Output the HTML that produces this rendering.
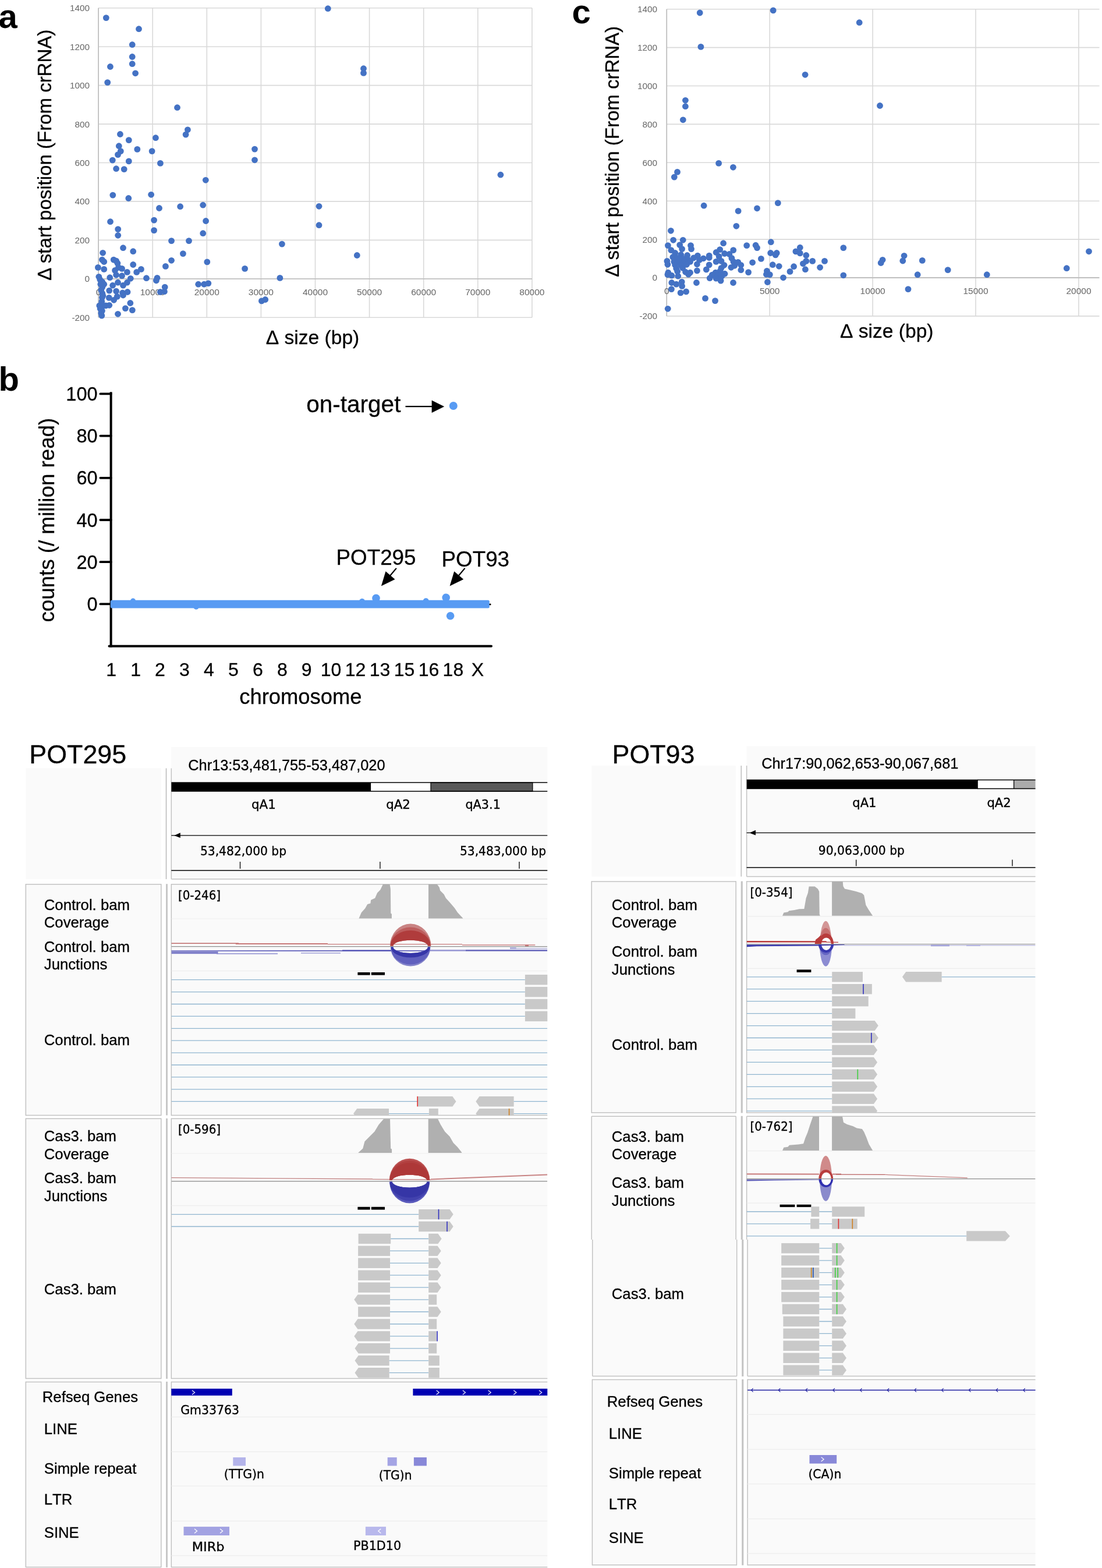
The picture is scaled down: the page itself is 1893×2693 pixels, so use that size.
<!DOCTYPE html>
<html lang="en"><head><meta charset="utf-8"><title>Figure</title>
<style>
html,body{margin:0;padding:0;background:#fff;}
body{width:1893px;height:2693px;overflow:hidden;}
svg{display:block;}
text{white-space:pre;}
</style></head><body>
<svg width="1893" height="2693" viewBox="0 0 1893 2693">
<rect width="1893" height="2693" fill="#ffffff"/>
<g id="plot-a">
<line x1="169.1" y1="13.7" x2="914.0" y2="13.7" stroke="#d9d9d9" stroke-width="1.6" />
<line x1="169.1" y1="80.2" x2="914.0" y2="80.2" stroke="#d9d9d9" stroke-width="1.6" />
<line x1="169.1" y1="146.6" x2="914.0" y2="146.6" stroke="#d9d9d9" stroke-width="1.6" />
<line x1="169.1" y1="213.1" x2="914.0" y2="213.1" stroke="#d9d9d9" stroke-width="1.6" />
<line x1="169.1" y1="279.5" x2="914.0" y2="279.5" stroke="#d9d9d9" stroke-width="1.6" />
<line x1="169.1" y1="345.9" x2="914.0" y2="345.9" stroke="#d9d9d9" stroke-width="1.6" />
<line x1="169.1" y1="412.4" x2="914.0" y2="412.4" stroke="#d9d9d9" stroke-width="1.6" />
<line x1="169.1" y1="545.3" x2="914.0" y2="545.3" stroke="#d9d9d9" stroke-width="1.6" />
<line x1="262.2" y1="13.7" x2="262.2" y2="545.3" stroke="#d9d9d9" stroke-width="1.6" />
<line x1="355.3" y1="13.7" x2="355.3" y2="545.3" stroke="#d9d9d9" stroke-width="1.6" />
<line x1="448.4" y1="13.7" x2="448.4" y2="545.3" stroke="#d9d9d9" stroke-width="1.6" />
<line x1="541.5" y1="13.7" x2="541.5" y2="545.3" stroke="#d9d9d9" stroke-width="1.6" />
<line x1="634.6" y1="13.7" x2="634.6" y2="545.3" stroke="#d9d9d9" stroke-width="1.6" />
<line x1="727.7" y1="13.7" x2="727.7" y2="545.3" stroke="#d9d9d9" stroke-width="1.6" />
<line x1="820.8" y1="13.7" x2="820.8" y2="545.3" stroke="#d9d9d9" stroke-width="1.6" />
<line x1="913.9" y1="13.7" x2="913.9" y2="545.3" stroke="#d9d9d9" stroke-width="1.6" />
<line x1="169.1" y1="13.7" x2="169.1" y2="545.3" stroke="#bfbfbf" stroke-width="1.8" />
<line x1="169.1" y1="478.9" x2="914.0" y2="478.9" stroke="#bfbfbf" stroke-width="1.8" />
<text x="154.0" y="19.1" font-size="15.3" text-anchor="end" fill="#666666" font-family="'Liberation Sans', Arial, Helvetica, sans-serif" font-weight="normal"  style="font-kerning:none">1400</text>
<text x="154.0" y="85.6" font-size="15.3" text-anchor="end" fill="#666666" font-family="'Liberation Sans', Arial, Helvetica, sans-serif" font-weight="normal"  style="font-kerning:none">1200</text>
<text x="154.0" y="152.0" font-size="15.3" text-anchor="end" fill="#666666" font-family="'Liberation Sans', Arial, Helvetica, sans-serif" font-weight="normal"  style="font-kerning:none">1000</text>
<text x="154.0" y="218.5" font-size="15.3" text-anchor="end" fill="#666666" font-family="'Liberation Sans', Arial, Helvetica, sans-serif" font-weight="normal"  style="font-kerning:none">800</text>
<text x="154.0" y="284.9" font-size="15.3" text-anchor="end" fill="#666666" font-family="'Liberation Sans', Arial, Helvetica, sans-serif" font-weight="normal"  style="font-kerning:none">600</text>
<text x="154.0" y="351.3" font-size="15.3" text-anchor="end" fill="#666666" font-family="'Liberation Sans', Arial, Helvetica, sans-serif" font-weight="normal"  style="font-kerning:none">400</text>
<text x="154.0" y="417.8" font-size="15.3" text-anchor="end" fill="#666666" font-family="'Liberation Sans', Arial, Helvetica, sans-serif" font-weight="normal"  style="font-kerning:none">200</text>
<text x="154.0" y="484.2" font-size="15.3" text-anchor="end" fill="#666666" font-family="'Liberation Sans', Arial, Helvetica, sans-serif" font-weight="normal"  style="font-kerning:none">0</text>
<text x="154.0" y="550.7" font-size="15.3" text-anchor="end" fill="#666666" font-family="'Liberation Sans', Arial, Helvetica, sans-serif" font-weight="normal"  style="font-kerning:none">-200</text>
<text x="169.1" y="506.5" font-size="15.5" text-anchor="middle" fill="#666666" font-family="'Liberation Sans', Arial, Helvetica, sans-serif" font-weight="normal"  style="font-kerning:none">0</text>
<text x="262.2" y="506.5" font-size="15.5" text-anchor="middle" fill="#666666" font-family="'Liberation Sans', Arial, Helvetica, sans-serif" font-weight="normal"  style="font-kerning:none">10000</text>
<text x="355.3" y="506.5" font-size="15.5" text-anchor="middle" fill="#666666" font-family="'Liberation Sans', Arial, Helvetica, sans-serif" font-weight="normal"  style="font-kerning:none">20000</text>
<text x="448.4" y="506.5" font-size="15.5" text-anchor="middle" fill="#666666" font-family="'Liberation Sans', Arial, Helvetica, sans-serif" font-weight="normal"  style="font-kerning:none">30000</text>
<text x="541.5" y="506.5" font-size="15.5" text-anchor="middle" fill="#666666" font-family="'Liberation Sans', Arial, Helvetica, sans-serif" font-weight="normal"  style="font-kerning:none">40000</text>
<text x="634.6" y="506.5" font-size="15.5" text-anchor="middle" fill="#666666" font-family="'Liberation Sans', Arial, Helvetica, sans-serif" font-weight="normal"  style="font-kerning:none">50000</text>
<text x="727.7" y="506.5" font-size="15.5" text-anchor="middle" fill="#666666" font-family="'Liberation Sans', Arial, Helvetica, sans-serif" font-weight="normal"  style="font-kerning:none">60000</text>
<text x="820.8" y="506.5" font-size="15.5" text-anchor="middle" fill="#666666" font-family="'Liberation Sans', Arial, Helvetica, sans-serif" font-weight="normal"  style="font-kerning:none">70000</text>
<text x="913.9" y="506.5" font-size="15.5" text-anchor="middle" fill="#666666" font-family="'Liberation Sans', Arial, Helvetica, sans-serif" font-weight="normal"  style="font-kerning:none">80000</text>
<circle cx="182.3" cy="30.6" r="5.4" fill="#4472c4"/>
<circle cx="238.5" cy="49.7" r="5.4" fill="#4472c4"/>
<circle cx="227.2" cy="76.7" r="5.4" fill="#4472c4"/>
<circle cx="227.2" cy="97.5" r="5.4" fill="#4472c4"/>
<circle cx="227.2" cy="109.7" r="5.4" fill="#4472c4"/>
<circle cx="232.6" cy="125.8" r="5.4" fill="#4472c4"/>
<circle cx="189.4" cy="114.5" r="5.4" fill="#4472c4"/>
<circle cx="184.7" cy="141.6" r="5.4" fill="#4472c4"/>
<circle cx="304.5" cy="184.7" r="5.4" fill="#4472c4"/>
<circle cx="322.4" cy="222.8" r="5.4" fill="#4472c4"/>
<circle cx="319.1" cy="231.1" r="5.4" fill="#4472c4"/>
<circle cx="206.4" cy="230.5" r="5.4" fill="#4472c4"/>
<circle cx="221.3" cy="240.6" r="5.4" fill="#4472c4"/>
<circle cx="267.4" cy="236.7" r="5.4" fill="#4472c4"/>
<circle cx="204.3" cy="250.7" r="5.4" fill="#4472c4"/>
<circle cx="207.3" cy="259.6" r="5.4" fill="#4472c4"/>
<circle cx="235.8" cy="256.4" r="5.4" fill="#4472c4"/>
<circle cx="261.1" cy="259.6" r="5.4" fill="#4472c4"/>
<circle cx="202.5" cy="265.6" r="5.4" fill="#4472c4"/>
<circle cx="193.3" cy="275.1" r="5.4" fill="#4472c4"/>
<circle cx="221.3" cy="276.9" r="5.4" fill="#4472c4"/>
<circle cx="275.4" cy="280.4" r="5.4" fill="#4472c4"/>
<circle cx="199.6" cy="289.7" r="5.4" fill="#4472c4"/>
<circle cx="213.2" cy="290.6" r="5.4" fill="#4472c4"/>
<circle cx="437.5" cy="256.1" r="5.4" fill="#4472c4"/>
<circle cx="437.5" cy="274.8" r="5.4" fill="#4472c4"/>
<circle cx="353.3" cy="309.3" r="5.4" fill="#4472c4"/>
<circle cx="193.8" cy="335.1" r="5.4" fill="#4472c4"/>
<circle cx="220.8" cy="340.5" r="5.4" fill="#4472c4"/>
<circle cx="259.6" cy="334.3" r="5.4" fill="#4472c4"/>
<circle cx="273.5" cy="357.5" r="5.4" fill="#4472c4"/>
<circle cx="309.6" cy="354.7" r="5.4" fill="#4472c4"/>
<circle cx="348.7" cy="352.2" r="5.4" fill="#4472c4"/>
<circle cx="189.5" cy="380.7" r="5.4" fill="#4472c4"/>
<circle cx="264.6" cy="378.1" r="5.4" fill="#4472c4"/>
<circle cx="353.6" cy="379.5" r="5.4" fill="#4472c4"/>
<circle cx="202.7" cy="393.6" r="5.4" fill="#4472c4"/>
<circle cx="264.6" cy="395.6" r="5.4" fill="#4472c4"/>
<circle cx="348.7" cy="400.7" r="5.4" fill="#4472c4"/>
<circle cx="202.7" cy="404.3" r="5.4" fill="#4472c4"/>
<circle cx="294.5" cy="413.6" r="5.4" fill="#4472c4"/>
<circle cx="324.5" cy="413.6" r="5.4" fill="#4472c4"/>
<circle cx="211.5" cy="425.7" r="5.4" fill="#4472c4"/>
<circle cx="228.7" cy="431.7" r="5.4" fill="#4472c4"/>
<circle cx="176.6" cy="434.3" r="5.4" fill="#4472c4"/>
<circle cx="314.4" cy="435.6" r="5.4" fill="#4472c4"/>
<circle cx="294.5" cy="447.3" r="5.4" fill="#4472c4"/>
<circle cx="355.8" cy="449.9" r="5.4" fill="#4472c4"/>
<circle cx="175.4" cy="446.1" r="5.4" fill="#4472c4"/>
<circle cx="178.7" cy="449.5" r="5.4" fill="#4472c4"/>
<circle cx="195.2" cy="446.1" r="5.4" fill="#4472c4"/>
<circle cx="199.6" cy="448.1" r="5.4" fill="#4472c4"/>
<circle cx="201.9" cy="452.1" r="5.4" fill="#4472c4"/>
<circle cx="228.7" cy="454.5" r="5.4" fill="#4472c4"/>
<circle cx="284.4" cy="457.4" r="5.4" fill="#4472c4"/>
<circle cx="168.4" cy="459.4" r="5.4" fill="#4472c4"/>
<circle cx="178.7" cy="462.4" r="5.4" fill="#4472c4"/>
<circle cx="203.5" cy="459.4" r="5.4" fill="#4472c4"/>
<circle cx="209.5" cy="461.4" r="5.4" fill="#4472c4"/>
<circle cx="197.6" cy="464.4" r="5.4" fill="#4472c4"/>
<circle cx="218.4" cy="467.4" r="5.4" fill="#4472c4"/>
<circle cx="234.7" cy="467.4" r="5.4" fill="#4472c4"/>
<circle cx="242.4" cy="462.4" r="5.4" fill="#4472c4"/>
<circle cx="420.6" cy="461.4" r="5.4" fill="#4472c4"/>
<circle cx="199.6" cy="472.3" r="5.4" fill="#4472c4"/>
<circle cx="209.5" cy="473.7" r="5.4" fill="#4472c4"/>
<circle cx="188.7" cy="476.7" r="5.4" fill="#4472c4"/>
<circle cx="169.8" cy="475.3" r="5.4" fill="#4472c4"/>
<circle cx="224.3" cy="478.3" r="5.4" fill="#4472c4"/>
<circle cx="251.5" cy="477.7" r="5.4" fill="#4472c4"/>
<circle cx="270.0" cy="477.3" r="5.4" fill="#4472c4"/>
<circle cx="268.4" cy="481.8" r="5.4" fill="#4472c4"/>
<circle cx="171.8" cy="480.2" r="5.4" fill="#4472c4"/>
<circle cx="175.8" cy="484.2" r="5.4" fill="#4472c4"/>
<circle cx="178.7" cy="488.2" r="5.4" fill="#4472c4"/>
<circle cx="202.5" cy="485.2" r="5.4" fill="#4472c4"/>
<circle cx="218.4" cy="485.2" r="5.4" fill="#4472c4"/>
<circle cx="193.6" cy="490.2" r="5.4" fill="#4472c4"/>
<circle cx="211.5" cy="490.2" r="5.4" fill="#4472c4"/>
<circle cx="340.7" cy="488.2" r="5.4" fill="#4472c4"/>
<circle cx="350.6" cy="488.2" r="5.4" fill="#4472c4"/>
<circle cx="357.8" cy="486.6" r="5.4" fill="#4472c4"/>
<circle cx="283.2" cy="493.1" r="5.4" fill="#4472c4"/>
<circle cx="175.8" cy="493.1" r="5.4" fill="#4472c4"/>
<circle cx="187.7" cy="499.1" r="5.4" fill="#4472c4"/>
<circle cx="199.6" cy="500.1" r="5.4" fill="#4472c4"/>
<circle cx="210.5" cy="503.0" r="5.4" fill="#4472c4"/>
<circle cx="219.0" cy="501.5" r="5.4" fill="#4472c4"/>
<circle cx="275.3" cy="501.5" r="5.4" fill="#4472c4"/>
<circle cx="282.4" cy="500.7" r="5.4" fill="#4472c4"/>
<circle cx="175.8" cy="504.0" r="5.4" fill="#4472c4"/>
<circle cx="175.4" cy="511.0" r="5.4" fill="#4472c4"/>
<circle cx="187.3" cy="511.4" r="5.4" fill="#4472c4"/>
<circle cx="201.2" cy="509.4" r="5.4" fill="#4472c4"/>
<circle cx="211.5" cy="507.0" r="5.4" fill="#4472c4"/>
<circle cx="195.6" cy="515.3" r="5.4" fill="#4472c4"/>
<circle cx="223.8" cy="520.5" r="5.4" fill="#4472c4"/>
<circle cx="449.4" cy="516.9" r="5.4" fill="#4472c4"/>
<circle cx="455.7" cy="514.5" r="5.4" fill="#4472c4"/>
<circle cx="170.8" cy="524.9" r="5.4" fill="#4472c4"/>
<circle cx="175.8" cy="525.8" r="5.4" fill="#4472c4"/>
<circle cx="181.7" cy="524.9" r="5.4" fill="#4472c4"/>
<circle cx="187.7" cy="524.3" r="5.4" fill="#4472c4"/>
<circle cx="215.4" cy="529.6" r="5.4" fill="#4472c4"/>
<circle cx="227.3" cy="532.6" r="5.4" fill="#4472c4"/>
<circle cx="175.4" cy="533.8" r="5.4" fill="#4472c4"/>
<circle cx="202.5" cy="539.3" r="5.4" fill="#4472c4"/>
<circle cx="174.8" cy="542.1" r="5.4" fill="#4472c4"/>
<circle cx="173.8" cy="498.1" r="5.4" fill="#4472c4"/>
<circle cx="174.8" cy="517.9" r="5.4" fill="#4472c4"/>
<circle cx="176.8" cy="508.0" r="5.4" fill="#4472c4"/>
<circle cx="173.8" cy="537.7" r="5.4" fill="#4472c4"/>
<circle cx="172.8" cy="488.2" r="5.4" fill="#4472c4"/>
<circle cx="172.2" cy="530.2" r="5.4" fill="#4472c4"/>
<circle cx="563.3" cy="14.7" r="5.4" fill="#4472c4"/>
<circle cx="624.5" cy="117.7" r="5.4" fill="#4472c4"/>
<circle cx="624.5" cy="125.4" r="5.4" fill="#4472c4"/>
<circle cx="859.9" cy="300.2" r="5.4" fill="#4472c4"/>
<circle cx="548.0" cy="354.3" r="5.4" fill="#4472c4"/>
<circle cx="548.0" cy="386.7" r="5.4" fill="#4472c4"/>
<circle cx="484.4" cy="419.1" r="5.4" fill="#4472c4"/>
<circle cx="613.3" cy="438.5" r="5.4" fill="#4472c4"/>
<circle cx="480.9" cy="477.4" r="5.4" fill="#4472c4"/>
<text x="537.0" y="591.2" font-size="33.6" text-anchor="middle" fill="#000" font-family="'Liberation Sans', Arial, Helvetica, sans-serif" font-weight="normal"  style="font-kerning:none" stroke="#000" stroke-width="0.3">Δ size (bp)</text>
<text transform="translate(88.3,266.2) rotate(-90)" font-size="33" text-anchor="middle" font-family="'Liberation Sans', Arial, Helvetica, sans-serif" stroke="#000" stroke-width="0.3">Δ start position (From crRNA)</text>
</g>
<g id="plot-c">
<line x1="1145.2" y1="15.7" x2="1888.5" y2="15.7" stroke="#d9d9d9" stroke-width="1.6" />
<line x1="1145.2" y1="81.6" x2="1888.5" y2="81.6" stroke="#d9d9d9" stroke-width="1.6" />
<line x1="1145.2" y1="147.5" x2="1888.5" y2="147.5" stroke="#d9d9d9" stroke-width="1.6" />
<line x1="1145.2" y1="213.4" x2="1888.5" y2="213.4" stroke="#d9d9d9" stroke-width="1.6" />
<line x1="1145.2" y1="279.3" x2="1888.5" y2="279.3" stroke="#d9d9d9" stroke-width="1.6" />
<line x1="1145.2" y1="345.2" x2="1888.5" y2="345.2" stroke="#d9d9d9" stroke-width="1.6" />
<line x1="1145.2" y1="411.1" x2="1888.5" y2="411.1" stroke="#d9d9d9" stroke-width="1.6" />
<line x1="1145.2" y1="542.9" x2="1888.5" y2="542.9" stroke="#d9d9d9" stroke-width="1.6" />
<line x1="1322.2" y1="15.7" x2="1322.2" y2="542.9" stroke="#d9d9d9" stroke-width="1.6" />
<line x1="1499.1" y1="15.7" x2="1499.1" y2="542.9" stroke="#d9d9d9" stroke-width="1.6" />
<line x1="1676.0" y1="15.7" x2="1676.0" y2="542.9" stroke="#d9d9d9" stroke-width="1.6" />
<line x1="1853.0" y1="15.7" x2="1853.0" y2="542.9" stroke="#d9d9d9" stroke-width="1.6" />
<line x1="1145.2" y1="15.7" x2="1145.2" y2="542.9" stroke="#bfbfbf" stroke-width="1.8" />
<line x1="1145.2" y1="477.0" x2="1888.5" y2="477.0" stroke="#bfbfbf" stroke-width="1.8" />
<text x="1129.0" y="21.1" font-size="15.3" text-anchor="end" fill="#666666" font-family="'Liberation Sans', Arial, Helvetica, sans-serif" font-weight="normal"  style="font-kerning:none">1400</text>
<text x="1129.0" y="87.0" font-size="15.3" text-anchor="end" fill="#666666" font-family="'Liberation Sans', Arial, Helvetica, sans-serif" font-weight="normal"  style="font-kerning:none">1200</text>
<text x="1129.0" y="152.9" font-size="15.3" text-anchor="end" fill="#666666" font-family="'Liberation Sans', Arial, Helvetica, sans-serif" font-weight="normal"  style="font-kerning:none">1000</text>
<text x="1129.0" y="218.8" font-size="15.3" text-anchor="end" fill="#666666" font-family="'Liberation Sans', Arial, Helvetica, sans-serif" font-weight="normal"  style="font-kerning:none">800</text>
<text x="1129.0" y="284.7" font-size="15.3" text-anchor="end" fill="#666666" font-family="'Liberation Sans', Arial, Helvetica, sans-serif" font-weight="normal"  style="font-kerning:none">600</text>
<text x="1129.0" y="350.6" font-size="15.3" text-anchor="end" fill="#666666" font-family="'Liberation Sans', Arial, Helvetica, sans-serif" font-weight="normal"  style="font-kerning:none">400</text>
<text x="1129.0" y="416.5" font-size="15.3" text-anchor="end" fill="#666666" font-family="'Liberation Sans', Arial, Helvetica, sans-serif" font-weight="normal"  style="font-kerning:none">200</text>
<text x="1129.0" y="482.4" font-size="15.3" text-anchor="end" fill="#666666" font-family="'Liberation Sans', Arial, Helvetica, sans-serif" font-weight="normal"  style="font-kerning:none">0</text>
<text x="1129.0" y="548.3" font-size="15.3" text-anchor="end" fill="#666666" font-family="'Liberation Sans', Arial, Helvetica, sans-serif" font-weight="normal"  style="font-kerning:none">-200</text>
<text x="1145.2" y="504.6" font-size="15.5" text-anchor="middle" fill="#666666" font-family="'Liberation Sans', Arial, Helvetica, sans-serif" font-weight="normal"  style="font-kerning:none">0</text>
<text x="1322.2" y="504.6" font-size="15.5" text-anchor="middle" fill="#666666" font-family="'Liberation Sans', Arial, Helvetica, sans-serif" font-weight="normal"  style="font-kerning:none">5000</text>
<text x="1499.1" y="504.6" font-size="15.5" text-anchor="middle" fill="#666666" font-family="'Liberation Sans', Arial, Helvetica, sans-serif" font-weight="normal"  style="font-kerning:none">10000</text>
<text x="1676.0" y="504.6" font-size="15.5" text-anchor="middle" fill="#666666" font-family="'Liberation Sans', Arial, Helvetica, sans-serif" font-weight="normal"  style="font-kerning:none">15000</text>
<text x="1853.0" y="504.6" font-size="15.5" text-anchor="middle" fill="#666666" font-family="'Liberation Sans', Arial, Helvetica, sans-serif" font-weight="normal"  style="font-kerning:none">20000</text>
<circle cx="1264.8" cy="388.3" r="5.4" fill="#4472c4"/>
<circle cx="1152.4" cy="396.3" r="5.4" fill="#4472c4"/>
<circle cx="1156.6" cy="412.3" r="5.4" fill="#4472c4"/>
<circle cx="1173.2" cy="412.3" r="5.4" fill="#4472c4"/>
<circle cx="1147.4" cy="421.6" r="5.4" fill="#4472c4"/>
<circle cx="1167.7" cy="420.6" r="5.4" fill="#4472c4"/>
<circle cx="1186.5" cy="421.6" r="5.4" fill="#4472c4"/>
<circle cx="1242.6" cy="417.7" r="5.4" fill="#4472c4"/>
<circle cx="1282.7" cy="421.6" r="5.4" fill="#4472c4"/>
<circle cx="1298.1" cy="421.2" r="5.4" fill="#4472c4"/>
<circle cx="1300.5" cy="425.6" r="5.4" fill="#4472c4"/>
<circle cx="1324.3" cy="415.7" r="5.4" fill="#4472c4"/>
<circle cx="1374.3" cy="425.2" r="5.4" fill="#4472c4"/>
<circle cx="1171.6" cy="427.6" r="5.4" fill="#4472c4"/>
<circle cx="1187.5" cy="427.6" r="5.4" fill="#4472c4"/>
<circle cx="1152.8" cy="429.6" r="5.4" fill="#4472c4"/>
<circle cx="1236.7" cy="428.6" r="5.4" fill="#4472c4"/>
<circle cx="1259.7" cy="429.6" r="5.4" fill="#4472c4"/>
<circle cx="1366.9" cy="431.9" r="5.4" fill="#4472c4"/>
<circle cx="1374.3" cy="434.9" r="5.4" fill="#4472c4"/>
<circle cx="1448.8" cy="425.6" r="5.4" fill="#4472c4"/>
<circle cx="1230.1" cy="433.5" r="5.4" fill="#4472c4"/>
<circle cx="1244.6" cy="435.5" r="5.4" fill="#4472c4"/>
<circle cx="1323.7" cy="434.5" r="5.4" fill="#4472c4"/>
<circle cx="1334.2" cy="434.5" r="5.4" fill="#4472c4"/>
<circle cx="1332.2" cy="437.9" r="5.4" fill="#4472c4"/>
<circle cx="1384.8" cy="438.5" r="5.4" fill="#4472c4"/>
<circle cx="1159.7" cy="434.5" r="5.4" fill="#4472c4"/>
<circle cx="1169.7" cy="437.5" r="5.4" fill="#4472c4"/>
<circle cx="1180.6" cy="438.5" r="5.4" fill="#4472c4"/>
<circle cx="1198.4" cy="439.1" r="5.4" fill="#4472c4"/>
<circle cx="1218.2" cy="439.1" r="5.4" fill="#4472c4"/>
<circle cx="1252.9" cy="436.5" r="5.4" fill="#4472c4"/>
<circle cx="1191.5" cy="443.0" r="5.4" fill="#4472c4"/>
<circle cx="1208.3" cy="443.8" r="5.4" fill="#4472c4"/>
<circle cx="1218.2" cy="442.5" r="5.4" fill="#4472c4"/>
<circle cx="1235.1" cy="440.5" r="5.4" fill="#4472c4"/>
<circle cx="1256.9" cy="443.4" r="5.4" fill="#4472c4"/>
<circle cx="1307.4" cy="444.4" r="5.4" fill="#4472c4"/>
<circle cx="1155.8" cy="441.5" r="5.4" fill="#4472c4"/>
<circle cx="1163.7" cy="443.4" r="5.4" fill="#4472c4"/>
<circle cx="1173.6" cy="444.4" r="5.4" fill="#4472c4"/>
<circle cx="1181.5" cy="445.4" r="5.4" fill="#4472c4"/>
<circle cx="1145.9" cy="448.4" r="5.4" fill="#4472c4"/>
<circle cx="1157.8" cy="449.4" r="5.4" fill="#4472c4"/>
<circle cx="1165.7" cy="449.4" r="5.4" fill="#4472c4"/>
<circle cx="1175.6" cy="449.4" r="5.4" fill="#4472c4"/>
<circle cx="1185.5" cy="449.4" r="5.4" fill="#4472c4"/>
<circle cx="1201.4" cy="446.4" r="5.4" fill="#4472c4"/>
<circle cx="1230.1" cy="449.4" r="5.4" fill="#4472c4"/>
<circle cx="1239.0" cy="448.4" r="5.4" fill="#4472c4"/>
<circle cx="1259.9" cy="449.4" r="5.4" fill="#4472c4"/>
<circle cx="1267.8" cy="450.4" r="5.4" fill="#4472c4"/>
<circle cx="1292.6" cy="450.8" r="5.4" fill="#4472c4"/>
<circle cx="1384.8" cy="448.4" r="5.4" fill="#4472c4"/>
<circle cx="1395.7" cy="448.4" r="5.4" fill="#4472c4"/>
<circle cx="1416.5" cy="448.4" r="5.4" fill="#4472c4"/>
<circle cx="1379.4" cy="452.8" r="5.4" fill="#4472c4"/>
<circle cx="1146.9" cy="454.3" r="5.4" fill="#4472c4"/>
<circle cx="1159.7" cy="455.3" r="5.4" fill="#4472c4"/>
<circle cx="1169.7" cy="455.3" r="5.4" fill="#4472c4"/>
<circle cx="1179.6" cy="454.3" r="5.4" fill="#4472c4"/>
<circle cx="1197.4" cy="453.8" r="5.4" fill="#4472c4"/>
<circle cx="1218.2" cy="454.9" r="5.4" fill="#4472c4"/>
<circle cx="1244.0" cy="455.3" r="5.4" fill="#4472c4"/>
<circle cx="1261.8" cy="456.3" r="5.4" fill="#4472c4"/>
<circle cx="1272.8" cy="455.3" r="5.4" fill="#4472c4"/>
<circle cx="1327.3" cy="454.7" r="5.4" fill="#4472c4"/>
<circle cx="1338.2" cy="457.3" r="5.4" fill="#4472c4"/>
<circle cx="1363.6" cy="457.7" r="5.4" fill="#4472c4"/>
<circle cx="1408.6" cy="459.3" r="5.4" fill="#4472c4"/>
<circle cx="1255.9" cy="459.3" r="5.4" fill="#4472c4"/>
<circle cx="1161.7" cy="461.3" r="5.4" fill="#4472c4"/>
<circle cx="1172.6" cy="460.3" r="5.4" fill="#4472c4"/>
<circle cx="1239.0" cy="460.3" r="5.4" fill="#4472c4"/>
<circle cx="1213.3" cy="462.9" r="5.4" fill="#4472c4"/>
<circle cx="1197.4" cy="464.9" r="5.4" fill="#4472c4"/>
<circle cx="1272.8" cy="463.7" r="5.4" fill="#4472c4"/>
<circle cx="1383.4" cy="462.7" r="5.4" fill="#4472c4"/>
<circle cx="1357.0" cy="466.4" r="5.4" fill="#4472c4"/>
<circle cx="1237.1" cy="465.3" r="5.4" fill="#4472c4"/>
<circle cx="1163.7" cy="466.2" r="5.4" fill="#4472c4"/>
<circle cx="1177.6" cy="467.2" r="5.4" fill="#4472c4"/>
<circle cx="1185.5" cy="468.2" r="5.4" fill="#4472c4"/>
<circle cx="1147.8" cy="468.2" r="5.4" fill="#4472c4"/>
<circle cx="1229.1" cy="468.2" r="5.4" fill="#4472c4"/>
<circle cx="1245.0" cy="470.2" r="5.4" fill="#4472c4"/>
<circle cx="1285.6" cy="467.6" r="5.4" fill="#4472c4"/>
<circle cx="1317.4" cy="465.3" r="5.4" fill="#4472c4"/>
<circle cx="1316.4" cy="471.2" r="5.4" fill="#4472c4"/>
<circle cx="1322.3" cy="471.6" r="5.4" fill="#4472c4"/>
<circle cx="1448.8" cy="472.8" r="5.4" fill="#4472c4"/>
<circle cx="1146.9" cy="471.6" r="5.4" fill="#4472c4"/>
<circle cx="1153.8" cy="473.2" r="5.4" fill="#4472c4"/>
<circle cx="1164.7" cy="474.2" r="5.4" fill="#4472c4"/>
<circle cx="1182.5" cy="471.2" r="5.4" fill="#4472c4"/>
<circle cx="1223.2" cy="472.2" r="5.4" fill="#4472c4"/>
<circle cx="1233.1" cy="473.2" r="5.4" fill="#4472c4"/>
<circle cx="1240.0" cy="474.2" r="5.4" fill="#4472c4"/>
<circle cx="1345.5" cy="476.8" r="5.4" fill="#4472c4"/>
<circle cx="1219.2" cy="477.7" r="5.4" fill="#4472c4"/>
<circle cx="1230.1" cy="478.1" r="5.4" fill="#4472c4"/>
<circle cx="1238.1" cy="482.1" r="5.4" fill="#4472c4"/>
<circle cx="1196.4" cy="485.5" r="5.4" fill="#4472c4"/>
<circle cx="1259.5" cy="485.5" r="5.4" fill="#4472c4"/>
<circle cx="1318.4" cy="484.5" r="5.4" fill="#4472c4"/>
<circle cx="1153.8" cy="485.5" r="5.4" fill="#4472c4"/>
<circle cx="1161.7" cy="488.1" r="5.4" fill="#4472c4"/>
<circle cx="1171.2" cy="484.1" r="5.4" fill="#4472c4"/>
<circle cx="1171.6" cy="491.4" r="5.4" fill="#4472c4"/>
<circle cx="1153.4" cy="496.6" r="5.4" fill="#4472c4"/>
<circle cx="1169.1" cy="502.9" r="5.4" fill="#4472c4"/>
<circle cx="1178.6" cy="500.9" r="5.4" fill="#4472c4"/>
<circle cx="1211.5" cy="512.4" r="5.4" fill="#4472c4"/>
<circle cx="1228.5" cy="516.6" r="5.4" fill="#4472c4"/>
<circle cx="1147.2" cy="530.3" r="5.4" fill="#4472c4"/>
<circle cx="1202.2" cy="22.0" r="5.4" fill="#4472c4"/>
<circle cx="1328.2" cy="17.9" r="5.4" fill="#4472c4"/>
<circle cx="1476.2" cy="38.7" r="5.4" fill="#4472c4"/>
<circle cx="1203.9" cy="80.4" r="5.4" fill="#4472c4"/>
<circle cx="1383.1" cy="128.3" r="5.4" fill="#4472c4"/>
<circle cx="1177.4" cy="172.3" r="5.4" fill="#4472c4"/>
<circle cx="1177.4" cy="182.7" r="5.4" fill="#4472c4"/>
<circle cx="1173.3" cy="205.8" r="5.4" fill="#4472c4"/>
<circle cx="1511.5" cy="181.5" r="5.4" fill="#4472c4"/>
<circle cx="1234.6" cy="280.4" r="5.4" fill="#4472c4"/>
<circle cx="1259.4" cy="287.3" r="5.4" fill="#4472c4"/>
<circle cx="1163.5" cy="295.4" r="5.4" fill="#4472c4"/>
<circle cx="1158.3" cy="304.1" r="5.4" fill="#4472c4"/>
<circle cx="1209.1" cy="353.2" r="5.4" fill="#4472c4"/>
<circle cx="1268.1" cy="362.4" r="5.4" fill="#4472c4"/>
<circle cx="1300.5" cy="357.8" r="5.4" fill="#4472c4"/>
<circle cx="1336.3" cy="348.6" r="5.4" fill="#4472c4"/>
<circle cx="1516.1" cy="446.3" r="5.4" fill="#4472c4"/>
<circle cx="1513.2" cy="451.5" r="5.4" fill="#4472c4"/>
<circle cx="1553.1" cy="439.3" r="5.4" fill="#4472c4"/>
<circle cx="1550.8" cy="448.0" r="5.4" fill="#4472c4"/>
<circle cx="1584.3" cy="447.4" r="5.4" fill="#4472c4"/>
<circle cx="1576.2" cy="471.7" r="5.4" fill="#4472c4"/>
<circle cx="1560.0" cy="496.6" r="5.4" fill="#4472c4"/>
<circle cx="1628.2" cy="463.6" r="5.4" fill="#4472c4"/>
<circle cx="1695.3" cy="471.7" r="5.4" fill="#4472c4"/>
<circle cx="1832.3" cy="460.7" r="5.4" fill="#4472c4"/>
<circle cx="1870.5" cy="431.8" r="5.4" fill="#4472c4"/>
<text x="1523.3" y="580.3" font-size="33.6" text-anchor="middle" fill="#000" font-family="'Liberation Sans', Arial, Helvetica, sans-serif" font-weight="normal"  style="font-kerning:none" stroke="#000" stroke-width="0.3">Δ size (bp)</text>
<text transform="translate(1063,260.4) rotate(-90)" font-size="33" text-anchor="middle" font-family="'Liberation Sans', Arial, Helvetica, sans-serif" stroke="#000" stroke-width="0.3">Δ start position (From crRNA)</text>
</g>
<text x="-2.5" y="47.8" font-size="58" text-anchor="start" fill="#000" font-family="'Liberation Sans', Arial, Helvetica, sans-serif" font-weight="bold"  style="font-kerning:none">a</text>
<text x="-2.5" y="671.2" font-size="58" text-anchor="start" fill="#000" font-family="'Liberation Sans', Arial, Helvetica, sans-serif" font-weight="bold"  style="font-kerning:none">b</text>
<text x="982.5" y="40.0" font-size="58" text-anchor="start" fill="#000" font-family="'Liberation Sans', Arial, Helvetica, sans-serif" font-weight="bold"  style="font-kerning:none">c</text>
<g id="plot-b">
<line x1="190.6" y1="673.2" x2="190.6" y2="1111.8" stroke="#000" stroke-width="4" />
<line x1="187.5" y1="1109.8" x2="844.0" y2="1109.8" stroke="#000" stroke-width="4" stroke-linecap="round"/>
<line x1="172.4" y1="676.4" x2="190.6" y2="676.4" stroke="#000" stroke-width="3.8" stroke-linecap="round"/>
<text x="167.6" y="687.9" font-size="32.5" text-anchor="end" fill="#000" font-family="'Liberation Sans', Arial, Helvetica, sans-serif" font-weight="normal"  style="font-kerning:none" stroke="#000" stroke-width="0.3">100</text>
<line x1="172.4" y1="748.6" x2="190.6" y2="748.6" stroke="#000" stroke-width="3.8" stroke-linecap="round"/>
<text x="167.6" y="760.1" font-size="32.5" text-anchor="end" fill="#000" font-family="'Liberation Sans', Arial, Helvetica, sans-serif" font-weight="normal"  style="font-kerning:none" stroke="#000" stroke-width="0.3">80</text>
<line x1="172.4" y1="820.8" x2="190.6" y2="820.8" stroke="#000" stroke-width="3.8" stroke-linecap="round"/>
<text x="167.6" y="832.3" font-size="32.5" text-anchor="end" fill="#000" font-family="'Liberation Sans', Arial, Helvetica, sans-serif" font-weight="normal"  style="font-kerning:none" stroke="#000" stroke-width="0.3">60</text>
<line x1="172.4" y1="893.0" x2="190.6" y2="893.0" stroke="#000" stroke-width="3.8" stroke-linecap="round"/>
<text x="167.6" y="904.5" font-size="32.5" text-anchor="end" fill="#000" font-family="'Liberation Sans', Arial, Helvetica, sans-serif" font-weight="normal"  style="font-kerning:none" stroke="#000" stroke-width="0.3">40</text>
<line x1="172.4" y1="965.2" x2="190.6" y2="965.2" stroke="#000" stroke-width="3.8" stroke-linecap="round"/>
<text x="167.6" y="976.7" font-size="32.5" text-anchor="end" fill="#000" font-family="'Liberation Sans', Arial, Helvetica, sans-serif" font-weight="normal"  style="font-kerning:none" stroke="#000" stroke-width="0.3">20</text>
<line x1="172.4" y1="1037.4" x2="190.6" y2="1037.4" stroke="#000" stroke-width="3.8" stroke-linecap="round"/>
<text x="167.6" y="1048.9" font-size="32.5" text-anchor="end" fill="#000" font-family="'Liberation Sans', Arial, Helvetica, sans-serif" font-weight="normal"  style="font-kerning:none" stroke="#000" stroke-width="0.3">0</text>
<rect x="189.8" y="1030.7" width="651.0" height="13.9" fill="#589bf3" rx="2.5"/>
<circle cx="778.8" cy="697" r="7" fill="#589bf3"/>
<circle cx="646" cy="1027.2" r="6.8" fill="#589bf3"/>
<circle cx="766.2" cy="1026.2" r="6.8" fill="#589bf3"/>
<circle cx="773.6" cy="1057.7" r="6.8" fill="#589bf3"/>
<circle cx="622" cy="1033" r="5" fill="#589bf3"/>
<circle cx="731.7" cy="1032.2" r="5" fill="#589bf3"/>
<circle cx="228.5" cy="1032.2" r="4.6" fill="#589bf3"/>
<circle cx="337" cy="1042.2" r="4.6" fill="#589bf3"/>
<circle cx="842" cy="1038" r="1.6" fill="#000"/>
<text x="191.1" y="1161.3" font-size="32" text-anchor="middle" fill="#000" font-family="'Liberation Sans', Arial, Helvetica, sans-serif" font-weight="normal"  style="font-kerning:none" stroke="#000" stroke-width="0.3">1</text>
<text x="233.1" y="1161.3" font-size="32" text-anchor="middle" fill="#000" font-family="'Liberation Sans', Arial, Helvetica, sans-serif" font-weight="normal"  style="font-kerning:none" stroke="#000" stroke-width="0.3">1</text>
<text x="275.0" y="1161.3" font-size="32" text-anchor="middle" fill="#000" font-family="'Liberation Sans', Arial, Helvetica, sans-serif" font-weight="normal"  style="font-kerning:none" stroke="#000" stroke-width="0.3">2</text>
<text x="316.9" y="1161.3" font-size="32" text-anchor="middle" fill="#000" font-family="'Liberation Sans', Arial, Helvetica, sans-serif" font-weight="normal"  style="font-kerning:none" stroke="#000" stroke-width="0.3">3</text>
<text x="358.9" y="1161.3" font-size="32" text-anchor="middle" fill="#000" font-family="'Liberation Sans', Arial, Helvetica, sans-serif" font-weight="normal"  style="font-kerning:none" stroke="#000" stroke-width="0.3">4</text>
<text x="400.9" y="1161.3" font-size="32" text-anchor="middle" fill="#000" font-family="'Liberation Sans', Arial, Helvetica, sans-serif" font-weight="normal"  style="font-kerning:none" stroke="#000" stroke-width="0.3">5</text>
<text x="442.8" y="1161.3" font-size="32" text-anchor="middle" fill="#000" font-family="'Liberation Sans', Arial, Helvetica, sans-serif" font-weight="normal"  style="font-kerning:none" stroke="#000" stroke-width="0.3">6</text>
<text x="484.8" y="1161.3" font-size="32" text-anchor="middle" fill="#000" font-family="'Liberation Sans', Arial, Helvetica, sans-serif" font-weight="normal"  style="font-kerning:none" stroke="#000" stroke-width="0.3">8</text>
<text x="526.7" y="1161.3" font-size="32" text-anchor="middle" fill="#000" font-family="'Liberation Sans', Arial, Helvetica, sans-serif" font-weight="normal"  style="font-kerning:none" stroke="#000" stroke-width="0.3">9</text>
<text x="568.6" y="1161.3" font-size="32" text-anchor="middle" fill="#000" font-family="'Liberation Sans', Arial, Helvetica, sans-serif" font-weight="normal"  style="font-kerning:none" stroke="#000" stroke-width="0.3">10</text>
<text x="610.6" y="1161.3" font-size="32" text-anchor="middle" fill="#000" font-family="'Liberation Sans', Arial, Helvetica, sans-serif" font-weight="normal"  style="font-kerning:none" stroke="#000" stroke-width="0.3">12</text>
<text x="652.6" y="1161.3" font-size="32" text-anchor="middle" fill="#000" font-family="'Liberation Sans', Arial, Helvetica, sans-serif" font-weight="normal"  style="font-kerning:none" stroke="#000" stroke-width="0.3">13</text>
<text x="694.5" y="1161.3" font-size="32" text-anchor="middle" fill="#000" font-family="'Liberation Sans', Arial, Helvetica, sans-serif" font-weight="normal"  style="font-kerning:none" stroke="#000" stroke-width="0.3">15</text>
<text x="736.5" y="1161.3" font-size="32" text-anchor="middle" fill="#000" font-family="'Liberation Sans', Arial, Helvetica, sans-serif" font-weight="normal"  style="font-kerning:none" stroke="#000" stroke-width="0.3">16</text>
<text x="778.4" y="1161.3" font-size="32" text-anchor="middle" fill="#000" font-family="'Liberation Sans', Arial, Helvetica, sans-serif" font-weight="normal"  style="font-kerning:none" stroke="#000" stroke-width="0.3">18</text>
<text x="820.4" y="1161.3" font-size="32" text-anchor="middle" fill="#000" font-family="'Liberation Sans', Arial, Helvetica, sans-serif" font-weight="normal"  style="font-kerning:none" stroke="#000" stroke-width="0.3">X</text>
<text x="516.4" y="1208.9" font-size="36.4" text-anchor="middle" fill="#000" font-family="'Liberation Sans', Arial, Helvetica, sans-serif" font-weight="normal"  style="font-kerning:none" stroke="#000" stroke-width="0.3">chromosome</text>
<text transform="translate(92.6,893.2) rotate(-90)" font-size="36.7" text-anchor="middle" font-family="'Liberation Sans', Arial, Helvetica, sans-serif" stroke="#000" stroke-width="0.3">counts (/ million read)</text>
<text x="526.3" y="708.2" font-size="40.5" text-anchor="start" fill="#000" font-family="'Liberation Sans', Arial, Helvetica, sans-serif" font-weight="normal"  style="font-kerning:none" stroke="#000" stroke-width="0.3">on-target</text>
<line x1="696.5" y1="698.2" x2="745.0" y2="698.2" stroke="#000" stroke-width="2.2" />
<polygon points="741.6,687.5 763.2,698.2 741.6,708.9" fill="#000" />
<text x="577.5" y="970.2" font-size="36.8" text-anchor="start" fill="#000" font-family="'Liberation Sans', Arial, Helvetica, sans-serif" font-weight="normal"  style="font-kerning:none" stroke="#000" stroke-width="0.3">POT295</text>
<text x="758.5" y="973.0" font-size="36.8" text-anchor="start" fill="#000" font-family="'Liberation Sans', Arial, Helvetica, sans-serif" font-weight="normal"  style="font-kerning:none" stroke="#000" stroke-width="0.3">POT93</text>
<line x1="680.9" y1="975.9" x2="669.2" y2="989.7" stroke="#000" stroke-width="2.2" />
<polygon points="654.9,1006.4 662.5,981.3 678.5,994.9" fill="#000" />
<line x1="798.6" y1="975.9" x2="786.9" y2="989.7" stroke="#000" stroke-width="2.2" />
<polygon points="772.6,1006.4 780.2,981.3 796.2,994.9" fill="#000" />
</g>
<g id="igv-left">
<rect x="44.3" y="1319.5" width="232.5" height="190.3" fill="#fafafa" />
<rect x="294.3" y="1283.0" width="646.0" height="226.8" fill="#fafafa" />
<line x1="294.3" y1="1319.5" x2="294.3" y2="1509.8" stroke="#c2c2c2" stroke-width="1.5" />
<line x1="294.3" y1="1509.8" x2="940.3" y2="1509.8" stroke="#c2c2c2" stroke-width="1.5" />
<text x="323.3" y="1322.5" font-size="25.35" text-anchor="start" fill="#000" font-family="'Liberation Sans', Arial, Helvetica, sans-serif" font-weight="normal"  style="font-kerning:none" stroke="#000" stroke-width="0.3">Chr13:53,481,755-53,487,020</text>
<rect x="294.3" y="1344.0" width="646.0" height="15.0" fill="#fff" />
<rect x="294.3" y="1343.3" width="342.8" height="16.4" fill="#000" />
<rect x="740.0" y="1344.0" width="174.9" height="15.0" fill="#5a5a5a" stroke="#000" stroke-width="1.2"/>
<line x1="637.0" y1="1344.0" x2="940.3" y2="1344.0" stroke="#000" stroke-width="1.4" />
<line x1="637.0" y1="1359.0" x2="940.3" y2="1359.0" stroke="#000" stroke-width="1.4" />
<text x="431.9" y="1389.2" font-size="21.5" fill="#000" font-family="'DejaVu Sans', 'Liberation Sans', sans-serif" textLength="41.9" lengthAdjust="spacingAndGlyphs" stroke="#000" stroke-width="0.35">qA1</text>
<text x="663.2" y="1389.2" font-size="21.5" fill="#000" font-family="'DejaVu Sans', 'Liberation Sans', sans-serif" textLength="41.7" lengthAdjust="spacingAndGlyphs" stroke="#000" stroke-width="0.35">qA2</text>
<text x="799.4" y="1389.2" font-size="21.5" fill="#000" font-family="'DejaVu Sans', 'Liberation Sans', sans-serif" textLength="60.5" lengthAdjust="spacingAndGlyphs" stroke="#000" stroke-width="0.35">qA3.1</text>
<line x1="294.3" y1="1434.9" x2="940.3" y2="1434.9" stroke="#000" stroke-width="1.3" />
<polygon points="299.2,1435.0 309.8,1430.2 309.8,1438.9" fill="#000" />
<text x="343.9" y="1468.8" font-size="21.5" fill="#000" font-family="'DejaVu Sans', 'Liberation Sans', sans-serif" textLength="148.2" lengthAdjust="spacingAndGlyphs" stroke="#000" stroke-width="0.35">53,482,000 bp</text>
<text x="789.9" y="1468.8" font-size="21.5" fill="#000" font-family="'DejaVu Sans', 'Liberation Sans', sans-serif" textLength="148.1" lengthAdjust="spacingAndGlyphs" stroke="#000" stroke-width="0.35">53,483,000 bp</text>
<line x1="412.5" y1="1480.0" x2="412.5" y2="1492.0" stroke="#000" stroke-width="1.3" />
<line x1="652.9" y1="1480.0" x2="652.9" y2="1492.0" stroke="#000" stroke-width="1.3" />
<line x1="892.0" y1="1480.0" x2="892.0" y2="1492.0" stroke="#000" stroke-width="1.3" />
<line x1="294.3" y1="1495.0" x2="940.3" y2="1495.0" stroke="#000" stroke-width="1.3" />
<rect x="284.8" y="1319.5" width="1.4" height="190.4" fill="#b4b4b4" />
<rect x="285.1" y="1518.2" width="2.8" height="397.3" fill="#c4c4c4" />
<rect x="285.1" y="1920.8" width="2.8" height="447.2" fill="#c4c4c4" />
<rect x="285.1" y="2372.9" width="2.8" height="319.0" fill="#c4c4c4" />
<rect x="44.3" y="1518.7" width="232.5" height="396.9" fill="#fafafa" />
<line x1="44.3" y1="1518.7" x2="276.8" y2="1518.7" stroke="#c2c2c2" stroke-width="1.5" />
<line x1="44.3" y1="1915.6" x2="276.8" y2="1915.6" stroke="#c2c2c2" stroke-width="1.5" />
<line x1="44.3" y1="1518.0" x2="44.3" y2="1916.3" stroke="#c2c2c2" stroke-width="1.5" />
<line x1="276.8" y1="1518.0" x2="276.8" y2="1916.3" stroke="#c2c2c2" stroke-width="1.5" />
<rect x="294.3" y="1518.7" width="646.0" height="396.9" fill="#fafafa" />
<line x1="294.3" y1="1518.7" x2="940.3" y2="1518.7" stroke="#c2c2c2" stroke-width="1.5" />
<line x1="294.3" y1="1915.6" x2="940.3" y2="1915.6" stroke="#c2c2c2" stroke-width="1.5" />
<line x1="294.3" y1="1518.0" x2="294.3" y2="1916.3" stroke="#c2c2c2" stroke-width="1.5" />
<text x="75.8" y="1562.5" font-size="25.7" text-anchor="start" fill="#000" font-family="'Liberation Sans', Arial, Helvetica, sans-serif" font-weight="normal"  style="font-kerning:none" stroke="#000" stroke-width="0.3">Control. bam</text>
<text x="75.8" y="1592.8" font-size="25.7" text-anchor="start" fill="#000" font-family="'Liberation Sans', Arial, Helvetica, sans-serif" font-weight="normal"  style="font-kerning:none" stroke="#000" stroke-width="0.3">Coverage</text>
<text x="75.8" y="1635.0" font-size="25.7" text-anchor="start" fill="#000" font-family="'Liberation Sans', Arial, Helvetica, sans-serif" font-weight="normal"  style="font-kerning:none" stroke="#000" stroke-width="0.3">Control. bam</text>
<text x="75.8" y="1665.0" font-size="25.7" text-anchor="start" fill="#000" font-family="'Liberation Sans', Arial, Helvetica, sans-serif" font-weight="normal"  style="font-kerning:none" stroke="#000" stroke-width="0.3">Junctions</text>
<text x="75.8" y="1795.0" font-size="25.7" text-anchor="start" fill="#000" font-family="'Liberation Sans', Arial, Helvetica, sans-serif" font-weight="normal"  style="font-kerning:none" stroke="#000" stroke-width="0.3">Control. bam</text>
<text x="305.9" y="1545.2" font-size="21.5" fill="#000" font-family="'DejaVu Sans', 'Liberation Sans', sans-serif" textLength="73.2" lengthAdjust="spacingAndGlyphs" stroke="#000" stroke-width="0.35">[0-246]</text>
<clipPath id="cl1"><rect x="294.3" y="1518.7" width="646" height="396.89999999999986"/></clipPath><g clip-path="url(#cl1)">
<polygon points="616.3,1577.7 620.8,1567.2 627.3,1560.1 631.2,1552.9 636.4,1551.6 637.1,1545.8 644.2,1542.5 648.1,1533.4 653.3,1528.2 657.9,1518.8 669.6,1518.8 670.9,1526.9 671.3,1568.5 672.9,1569.8 672.9,1577.7" fill="#b0b0b0" />
<polygon points="736.0,1577.7 736.0,1518.8 750.9,1518.8 754.8,1524.3 756.1,1529.5 762.6,1536.0 765.9,1542.5 773.0,1550.3 780.9,1559.4 786.1,1567.2 795.2,1577.0 795.2,1577.7" fill="#b0b0b0" />
<line x1="294.3" y1="1578.0" x2="940.3" y2="1578.0" stroke="#ededed" stroke-width="1.2" />
<line x1="294.3" y1="1667.5" x2="940.3" y2="1667.5" stroke="#ededed" stroke-width="1.2" />
<line x1="294.3" y1="1620.1" x2="410.0" y2="1620.2" stroke="#b04848" stroke-width="1.2" />
<line x1="404.8" y1="1621.0" x2="563.0" y2="1621.0" stroke="#c87878" stroke-width="2" />
<line x1="563.0" y1="1621.7" x2="794.0" y2="1621.7" stroke="#b85858" stroke-width="1.1" />
<line x1="794.0" y1="1623.1" x2="919.3" y2="1623.1" stroke="#cc8282" stroke-width="1.5" />
<rect x="902.0" y="1622.6" width="6.0" height="2.4" fill="#c47878" />
<line x1="294.3" y1="1625.6" x2="940.3" y2="1625.6" stroke="#8e8e8e" stroke-width="1.2" />
<line x1="876.0" y1="1628.8" x2="940.3" y2="1628.8" stroke="#a8a8d8" stroke-width="1.2" />
<rect x="876.0" y="1627.2" width="10.7" height="2.2" fill="#9c9cd2" />
<line x1="294.3" y1="1633.1" x2="737.0" y2="1633.0" stroke="#4444b0" stroke-width="1.4" />
<rect x="294.3" y="1634.3" width="80.3" height="3.9" fill="#7c7cc8" />
<line x1="372.0" y1="1638.0" x2="477.0" y2="1638.0" stroke="#8c8cd0" stroke-width="1.6" />
<line x1="517.0" y1="1636.9" x2="585.0" y2="1636.9" stroke="#8c8cd0" stroke-width="1.4" />
<line x1="588.0" y1="1632.6" x2="672.0" y2="1632.4" stroke="#4c4cb4" stroke-width="2" />
<rect x="737.0" y="1631.1" width="63.0" height="2.6" fill="#9898d4" />
<rect x="800.0" y="1631.1" width="140.3" height="2.6" fill="#6868bc" />
<path d="M669.9,1624.5 A35.3,38.0 0 0 1 740.5,1624.5 L735.0,1624.5 A29.8,9.8 0 0 0 675.4,1624.5 Z" fill="#c98484" fill-opacity="1"/>
<path d="M670.4,1624.5 A34.8,32.0 0 0 1 740.0,1624.5 L735.0,1624.5 A29.8,9.8 0 0 0 675.4,1624.5 Z" fill="#bd5e5e" fill-opacity="1"/>
<path d="M670.9,1624.5 A34.3,26.5 0 0 1 739.5,1624.5 L735.0,1624.5 A29.8,9.8 0 0 0 675.4,1624.5 Z" fill="#b03c3c" fill-opacity="1"/>
<path d="M671.0,1626.6 A34.2,32.8 0 0 0 739.4,1626.6 L735.0,1626.6 A29.8,10.4 0 0 1 675.4,1626.6 Z" fill="#8484ca" fill-opacity="1"/>
<path d="M671.2,1626.6 A34.0,30.0 0 0 0 739.2,1626.6 L735.0,1626.6 A29.8,10.4 0 0 1 675.4,1626.6 Z" fill="#6060be" fill-opacity="1"/>
<path d="M671.6,1626.6 A33.6,18.0 0 0 0 738.8,1626.6 L735.0,1626.6 A29.8,10.4 0 0 1 675.4,1626.6 Z" fill="#3636a8" fill-opacity="1"/>
<rect x="614.4" y="1669.9" width="21.2" height="4.8" fill="#000" />
<rect x="637.8" y="1669.9" width="23.2" height="4.8" fill="#000" />
<line x1="294.3" y1="1682.7" x2="901.9" y2="1682.7" stroke="#8fb5cf" stroke-width="1.3" />
<rect x="901.9" y="1674.0" width="43.4" height="17.4" fill="#c9c9c9" />
<line x1="294.3" y1="1703.6" x2="901.9" y2="1703.6" stroke="#8fb5cf" stroke-width="1.3" />
<rect x="901.9" y="1694.9" width="43.4" height="17.4" fill="#c9c9c9" />
<line x1="294.3" y1="1724.5" x2="901.9" y2="1724.5" stroke="#8fb5cf" stroke-width="1.3" />
<rect x="901.9" y="1715.8" width="43.4" height="17.4" fill="#c9c9c9" />
<line x1="294.3" y1="1745.4" x2="901.9" y2="1745.4" stroke="#8fb5cf" stroke-width="1.3" />
<rect x="901.9" y="1736.7" width="43.4" height="17.4" fill="#c9c9c9" />
<line x1="294.3" y1="1766.3" x2="940.3" y2="1766.3" stroke="#8fb5cf" stroke-width="1.3" />
<line x1="294.3" y1="1787.2" x2="940.3" y2="1787.2" stroke="#8fb5cf" stroke-width="1.3" />
<line x1="294.3" y1="1808.1" x2="940.3" y2="1808.1" stroke="#8fb5cf" stroke-width="1.3" />
<line x1="294.3" y1="1829.0" x2="940.3" y2="1829.0" stroke="#8fb5cf" stroke-width="1.3" />
<line x1="294.3" y1="1849.9" x2="940.3" y2="1849.9" stroke="#8fb5cf" stroke-width="1.3" />
<line x1="294.3" y1="1870.8" x2="940.3" y2="1870.8" stroke="#8fb5cf" stroke-width="1.3" />
<line x1="294.3" y1="1891.7" x2="717.0" y2="1891.7" stroke="#8fb5cf" stroke-width="1.3" />
<polygon points="718.0,1883.0 777.3,1883.0 783.5,1891.7 777.3,1900.4 718.0,1900.4" fill="#c9c9c9" />
<rect x="716.4" y="1883.0" width="1.6" height="17.4" fill="#e03030" />
<polygon points="823.5,1883.0 882.6,1883.0 882.6,1900.4 823.5,1900.4 817.3,1891.7" fill="#c9c9c9" />
<line x1="882.6" y1="1891.7" x2="940.3" y2="1891.7" stroke="#8fb5cf" stroke-width="1.3" />
<polygon points="613.3,1903.9 668.0,1903.9 668.0,1921.3 613.3,1921.3 607.1,1912.6" fill="#c9c9c9" />
<line x1="668.0" y1="1912.6" x2="736.9" y2="1912.6" stroke="#8fb5cf" stroke-width="1.3" />
<rect x="736.9" y="1903.9" width="15.9" height="17.4" fill="#c9c9c9" />
<polygon points="823.5,1903.9 882.6,1903.9 882.6,1921.3 823.5,1921.3 817.3,1912.6" fill="#c9c9c9" />
<rect x="873.8" y="1903.9" width="1.6" height="17.4" fill="#d08020" />
<line x1="882.6" y1="1912.6" x2="940.3" y2="1912.6" stroke="#8fb5cf" stroke-width="1.3" />
</g>
<rect x="44.3" y="1921.3" width="232.5" height="446.2" fill="#fafafa" />
<line x1="44.3" y1="1921.3" x2="276.8" y2="1921.3" stroke="#c2c2c2" stroke-width="1.5" />
<line x1="44.3" y1="2367.5" x2="276.8" y2="2367.5" stroke="#c2c2c2" stroke-width="1.5" />
<line x1="44.3" y1="1920.6" x2="44.3" y2="2368.2" stroke="#c2c2c2" stroke-width="1.5" />
<line x1="276.8" y1="1920.6" x2="276.8" y2="2368.2" stroke="#c2c2c2" stroke-width="1.5" />
<rect x="294.3" y="1921.3" width="646.0" height="446.2" fill="#fafafa" />
<line x1="294.3" y1="1921.3" x2="940.3" y2="1921.3" stroke="#c2c2c2" stroke-width="1.5" />
<line x1="294.3" y1="2367.5" x2="940.3" y2="2367.5" stroke="#c2c2c2" stroke-width="1.5" />
<line x1="294.3" y1="1920.6" x2="294.3" y2="2368.2" stroke="#c2c2c2" stroke-width="1.5" />
<text x="75.8" y="1960.4" font-size="25.7" text-anchor="start" fill="#000" font-family="'Liberation Sans', Arial, Helvetica, sans-serif" font-weight="normal"  style="font-kerning:none" stroke="#000" stroke-width="0.3">Cas3. bam</text>
<text x="75.8" y="1990.7" font-size="25.7" text-anchor="start" fill="#000" font-family="'Liberation Sans', Arial, Helvetica, sans-serif" font-weight="normal"  style="font-kerning:none" stroke="#000" stroke-width="0.3">Coverage</text>
<text x="75.8" y="2032.3" font-size="25.7" text-anchor="start" fill="#000" font-family="'Liberation Sans', Arial, Helvetica, sans-serif" font-weight="normal"  style="font-kerning:none" stroke="#000" stroke-width="0.3">Cas3. bam</text>
<text x="75.8" y="2063.0" font-size="25.7" text-anchor="start" fill="#000" font-family="'Liberation Sans', Arial, Helvetica, sans-serif" font-weight="normal"  style="font-kerning:none" stroke="#000" stroke-width="0.3">Junctions</text>
<text x="75.8" y="2223.0" font-size="25.7" text-anchor="start" fill="#000" font-family="'Liberation Sans', Arial, Helvetica, sans-serif" font-weight="normal"  style="font-kerning:none" stroke="#000" stroke-width="0.3">Cas3. bam</text>
<text x="305.9" y="1947.0" font-size="21.5" fill="#000" font-family="'DejaVu Sans', 'Liberation Sans', sans-serif" textLength="73.2" lengthAdjust="spacingAndGlyphs" stroke="#000" stroke-width="0.35">[0-596]</text>
<clipPath id="cl2"><rect x="294.3" y="1921.3" width="646" height="446.20000000000005"/></clipPath><g clip-path="url(#cl2)">
<polygon points="615.1,1979.9 623.3,1972.5 626.4,1960.4 630.1,1956.8 643.4,1943.5 650.6,1931.4 659.1,1921.7 670.0,1921.7 671.2,1972.5 673.1,1973.7 673.1,1979.9" fill="#b0b0b0" />
<polygon points="735.7,1979.9 735.7,1921.7 752.1,1921.7 756.9,1931.4 764.2,1943.5 772.6,1952.0 778.7,1962.8 785.9,1970.1 793.2,1979.3 793.2,1979.9" fill="#b0b0b0" />
<line x1="294.3" y1="1981.0" x2="940.3" y2="1981.0" stroke="#ededed" stroke-width="1.2" />
<line x1="294.3" y1="2070.6" x2="940.3" y2="2070.6" stroke="#ededed" stroke-width="1.2" />
<line x1="294.3" y1="2022.6" x2="640.0" y2="2025.0" stroke="#c08080" stroke-width="1.3" />
<line x1="640.0" y1="2025.4" x2="740.0" y2="2026.0" stroke="#c08080" stroke-width="1.3" />
<line x1="740.0" y1="2025.5" x2="940.3" y2="2017.5" stroke="#c88484" stroke-width="2" />
<line x1="294.3" y1="2028.8" x2="940.3" y2="2028.8" stroke="#9a9a9a" stroke-width="1.4" />
<path d="M668.9,2027.0 A34.7,37.3 0 0 1 738.3,2027.0 L733.4,2027.0 A29.8,9.2 0 0 0 673.8,2027.0 Z" fill="#bc5252" fill-opacity="1"/>
<path d="M669.2,2027.0 A34.4,34.0 0 0 1 738.0,2027.0 L733.4,2027.0 A29.8,9.2 0 0 0 673.8,2027.0 Z" fill="#b24040" fill-opacity="1"/>
<path d="M669.6,2027.0 A34.0,30.0 0 0 1 737.6,2027.0 L733.4,2027.0 A29.8,9.2 0 0 0 673.8,2027.0 Z" fill="#ae3838" fill-opacity="1"/>
<path d="M669.2,2029.8 A34.4,36.8 0 0 0 738.0,2029.8 L733.4,2029.8 A29.8,9.9 0 0 1 673.8,2029.8 Z" fill="#5a5abc" fill-opacity="1"/>
<path d="M669.4,2029.8 A34.2,33.0 0 0 0 737.8,2029.8 L733.4,2029.8 A29.8,9.9 0 0 1 673.8,2029.8 Z" fill="#4242ae" fill-opacity="1"/>
<path d="M669.6,2029.8 A34.0,27.0 0 0 0 737.6,2029.8 L733.4,2029.8 A29.8,9.9 0 0 1 673.8,2029.8 Z" fill="#3636a6" fill-opacity="1"/>
<rect x="614.4" y="2072.8" width="21.2" height="4.8" fill="#000" />
<rect x="637.8" y="2072.8" width="23.2" height="4.8" fill="#000" />
<line x1="294.3" y1="2085.6" x2="719.2" y2="2085.6" stroke="#8fb5cf" stroke-width="1.3" />
<polygon points="719.2,2076.9 772.5,2076.9 778.7,2085.6 772.5,2094.3 719.2,2094.3" fill="#c9c9c9" />
<rect x="752.7" y="2076.9" width="1.6" height="17.4" fill="#3030c0" />
<line x1="294.3" y1="2106.5" x2="719.2" y2="2106.5" stroke="#8fb5cf" stroke-width="1.3" />
<polygon points="719.2,2097.8 772.5,2097.8 778.7,2106.5 772.5,2115.2 719.2,2115.2" fill="#c9c9c9" />
<rect x="767.2" y="2097.8" width="1.6" height="17.4" fill="#3030c0" />
<rect x="615.6" y="2118.8" width="55.6" height="17.4" fill="#c9c9c9" />
<line x1="671.2" y1="2127.5" x2="736.2" y2="2127.5" stroke="#8fb5cf" stroke-width="1.3" />
<polygon points="736.2,2118.8 752.4,2118.8 758.6,2127.5 752.4,2136.2 736.2,2136.2" fill="#c9c9c9" />
<rect x="615.1" y="2139.7" width="54.9" height="17.4" fill="#c9c9c9" />
<line x1="670.0" y1="2148.4" x2="736.2" y2="2148.4" stroke="#8fb5cf" stroke-width="1.3" />
<polygon points="736.2,2139.7 751.5,2139.7 757.7,2148.4 751.5,2157.1 736.2,2157.1" fill="#c9c9c9" />
<rect x="615.1" y="2160.6" width="54.9" height="17.4" fill="#c9c9c9" />
<line x1="670.0" y1="2169.3" x2="736.2" y2="2169.3" stroke="#8fb5cf" stroke-width="1.3" />
<polygon points="736.2,2160.6 751.5,2160.6 757.7,2169.3 751.5,2178.0 736.2,2178.0" fill="#c9c9c9" />
<rect x="615.1" y="2181.6" width="54.9" height="17.4" fill="#c9c9c9" />
<line x1="670.0" y1="2190.2" x2="736.2" y2="2190.2" stroke="#8fb5cf" stroke-width="1.3" />
<polygon points="736.2,2181.6 751.5,2181.6 757.7,2190.2 751.5,2198.9 736.2,2198.9" fill="#c9c9c9" />
<rect x="615.1" y="2202.5" width="54.9" height="17.4" fill="#c9c9c9" />
<line x1="670.0" y1="2211.2" x2="736.2" y2="2211.2" stroke="#8fb5cf" stroke-width="1.3" />
<polygon points="736.2,2202.5 751.5,2202.5 757.7,2211.2 751.5,2219.9 736.2,2219.9" fill="#c9c9c9" />
<polygon points="614.5,2223.4 670.0,2223.4 670.0,2240.8 614.5,2240.8 608.3,2232.1" fill="#c9c9c9" />
<line x1="670.0" y1="2232.1" x2="736.2" y2="2232.1" stroke="#8fb5cf" stroke-width="1.3" />
<rect x="736.2" y="2223.4" width="14.0" height="17.4" fill="#c9c9c9" />
<rect x="615.1" y="2244.3" width="54.9" height="17.4" fill="#c9c9c9" />
<line x1="670.0" y1="2253.0" x2="736.2" y2="2253.0" stroke="#8fb5cf" stroke-width="1.3" />
<polygon points="736.2,2244.3 751.5,2244.3 757.7,2253.0 751.5,2261.7 736.2,2261.7" fill="#c9c9c9" />
<polygon points="614.5,2265.3 670.0,2265.3 670.0,2282.7 614.5,2282.7 608.3,2274.0" fill="#c9c9c9" />
<line x1="670.0" y1="2274.0" x2="736.2" y2="2274.0" stroke="#8fb5cf" stroke-width="1.3" />
<rect x="736.2" y="2265.3" width="14.0" height="17.4" fill="#c9c9c9" />
<polygon points="614.5,2286.2 670.0,2286.2 670.0,2303.6 614.5,2303.6 608.3,2294.9" fill="#c9c9c9" />
<line x1="670.0" y1="2294.9" x2="736.2" y2="2294.9" stroke="#8fb5cf" stroke-width="1.3" />
<rect x="736.2" y="2286.2" width="14.0" height="17.4" fill="#c9c9c9" />
<polygon points="615.7,2307.1 670.0,2307.1 670.0,2324.5 615.7,2324.5 609.5,2315.8" fill="#c9c9c9" />
<line x1="670.0" y1="2315.8" x2="736.2" y2="2315.8" stroke="#8fb5cf" stroke-width="1.3" />
<rect x="736.2" y="2307.1" width="14.0" height="17.4" fill="#c9c9c9" />
<polygon points="615.7,2328.1 668.7,2328.1 668.7,2345.5 615.7,2345.5 609.5,2336.8" fill="#c9c9c9" />
<line x1="668.7" y1="2336.8" x2="736.2" y2="2336.8" stroke="#8fb5cf" stroke-width="1.3" />
<rect x="736.2" y="2328.1" width="18.6" height="17.4" fill="#c9c9c9" />
<polygon points="615.7,2349.0 668.7,2349.0 668.7,2366.4 615.7,2366.4 609.5,2357.7" fill="#c9c9c9" />
<line x1="668.7" y1="2357.7" x2="736.2" y2="2357.7" stroke="#8fb5cf" stroke-width="1.3" />
<rect x="736.2" y="2349.0" width="18.6" height="17.4" fill="#c9c9c9" />
<rect x="750.3" y="2286.2" width="1.6" height="17.4" fill="#3030c0" />
</g>
<rect x="44.3" y="2373.4" width="232.5" height="318.0" fill="#fafafa" />
<line x1="44.3" y1="2373.4" x2="276.8" y2="2373.4" stroke="#c2c2c2" stroke-width="1.5" />
<line x1="44.3" y1="2691.4" x2="276.8" y2="2691.4" stroke="#c2c2c2" stroke-width="1.5" />
<line x1="44.3" y1="2372.7" x2="44.3" y2="2692.1" stroke="#c2c2c2" stroke-width="1.5" />
<line x1="276.8" y1="2372.7" x2="276.8" y2="2692.1" stroke="#c2c2c2" stroke-width="1.5" />
<rect x="294.3" y="2373.4" width="646.0" height="318.0" fill="#fafafa" />
<line x1="294.3" y1="2373.4" x2="940.3" y2="2373.4" stroke="#c2c2c2" stroke-width="1.5" />
<line x1="294.3" y1="2691.4" x2="940.3" y2="2691.4" stroke="#c2c2c2" stroke-width="1.5" />
<line x1="294.3" y1="2372.7" x2="294.3" y2="2692.1" stroke="#c2c2c2" stroke-width="1.5" />
<text x="72.8" y="2408.0" font-size="25.7" text-anchor="start" fill="#000" font-family="'Liberation Sans', Arial, Helvetica, sans-serif" font-weight="normal"  style="font-kerning:none" stroke="#000" stroke-width="0.3">Refseq Genes</text>
<text x="75.8" y="2463.0" font-size="25.7" text-anchor="start" fill="#000" font-family="'Liberation Sans', Arial, Helvetica, sans-serif" font-weight="normal"  style="font-kerning:none" stroke="#000" stroke-width="0.3">LINE</text>
<text x="75.8" y="2531.4" font-size="25.7" text-anchor="start" fill="#000" font-family="'Liberation Sans', Arial, Helvetica, sans-serif" font-weight="normal"  style="font-kerning:none" stroke="#000" stroke-width="0.3">Simple repeat</text>
<text x="75.8" y="2584.3" font-size="25.7" text-anchor="start" fill="#000" font-family="'Liberation Sans', Arial, Helvetica, sans-serif" font-weight="normal"  style="font-kerning:none" stroke="#000" stroke-width="0.3">LTR</text>
<text x="75.8" y="2641.4" font-size="25.7" text-anchor="start" fill="#000" font-family="'Liberation Sans', Arial, Helvetica, sans-serif" font-weight="normal"  style="font-kerning:none" stroke="#000" stroke-width="0.3">SINE</text>
<line x1="294.3" y1="2433.7" x2="940.3" y2="2433.7" stroke="#ededed" stroke-width="1.2" />
<line x1="294.3" y1="2493.3" x2="940.3" y2="2493.3" stroke="#ededed" stroke-width="1.2" />
<line x1="294.3" y1="2552.2" x2="940.3" y2="2552.2" stroke="#ededed" stroke-width="1.2" />
<line x1="294.3" y1="2612.3" x2="940.3" y2="2612.3" stroke="#ededed" stroke-width="1.2" />
<line x1="294.3" y1="2671.8" x2="940.3" y2="2671.8" stroke="#ededed" stroke-width="1.2" />
<rect x="294.3" y="2385.0" width="104.5" height="11.8" fill="#0000b2" />
<rect x="709.4" y="2385.0" width="230.9" height="11.8" fill="#0000b2" />
<polyline points="329.9,2387.9 334.5,2391.6 329.9,2395.3" fill="none" stroke="#fff" stroke-width="1.2"/>
<polyline points="749.6,2387.9 754.2,2391.6 749.6,2395.3" fill="none" stroke="#fff" stroke-width="1.2"/>
<polyline points="794.8,2387.9 799.4,2391.6 794.8,2395.3" fill="none" stroke="#fff" stroke-width="1.2"/>
<polyline points="838.6,2387.9 843.2,2391.6 838.6,2395.3" fill="none" stroke="#fff" stroke-width="1.2"/>
<polyline points="882.3,2387.9 886.9,2391.6 882.3,2395.3" fill="none" stroke="#fff" stroke-width="1.2"/>
<polyline points="926.0,2387.9 930.6,2391.6 926.0,2395.3" fill="none" stroke="#fff" stroke-width="1.2"/>
<text x="310.3" y="2428.8" font-size="21.5" fill="#000" font-family="'DejaVu Sans', 'Liberation Sans', sans-serif" textLength="100.6" lengthAdjust="spacingAndGlyphs" stroke="#000" stroke-width="0.35">Gm33763</text>
<rect x="400.3" y="2503.0" width="21.7" height="14.5" fill="#b4b4ea" />
<text x="384.8" y="2538.8" font-size="21.5" fill="#000" font-family="'DejaVu Sans', 'Liberation Sans', sans-serif" textLength="69.2" lengthAdjust="spacingAndGlyphs" stroke="#000" stroke-width="0.35">(TTG)n</text>
<rect x="665.7" y="2503.0" width="16.0" height="14.5" fill="#a4a4e4" />
<rect x="710.9" y="2503.0" width="22.0" height="14.5" fill="#8888d8" />
<text x="650.8" y="2541.2" font-size="21.5" fill="#000" font-family="'DejaVu Sans', 'Liberation Sans', sans-serif" textLength="56.7" lengthAdjust="spacingAndGlyphs" stroke="#000" stroke-width="0.35">(TG)n</text>
<rect x="315.5" y="2622.1" width="78.5" height="14.9" fill="#a2a2e2" />
<polyline points="334.0,2625.8 338.6,2629.5 334.0,2633.2" fill="none" stroke="#fff" stroke-width="1.2"/>
<polyline points="378.0,2625.8 382.6,2629.5 378.0,2633.2" fill="none" stroke="#fff" stroke-width="1.2"/>
<text x="329.7" y="2663.8" font-size="21.5" fill="#000" font-family="'DejaVu Sans', 'Liberation Sans', sans-serif" textLength="55.9" lengthAdjust="spacingAndGlyphs" stroke="#000" stroke-width="0.35">MIRb</text>
<rect x="627.9" y="2622.1" width="35.1" height="14.9" fill="#b8b8ec" />
<polyline points="654.3,2625.8 649.7,2629.5 654.3,2633.2" fill="none" stroke="#fff" stroke-width="1.2"/>
<text x="607.0" y="2662.3" font-size="21.5" fill="#000" font-family="'DejaVu Sans', 'Liberation Sans', sans-serif" textLength="82.1" lengthAdjust="spacingAndGlyphs" stroke="#000" stroke-width="0.35">PB1D10</text>
<text x="50.3" y="1311.2" font-size="44.8" text-anchor="start" fill="#000" font-family="'Liberation Sans', Arial, Helvetica, sans-serif" font-weight="normal"  style="font-kerning:none" stroke="#000" stroke-width="0.3">POT295</text>
</g>
<g id="igv-right">
<rect x="1016.2" y="1315.0" width="248.0" height="190.4" fill="#fafafa" />
<rect x="1282.6" y="1281.4" width="496.0" height="224.0" fill="#fafafa" />
<line x1="1282.6" y1="1315.0" x2="1282.6" y2="1505.4" stroke="#c2c2c2" stroke-width="1.5" />
<line x1="1282.6" y1="1505.4" x2="1778.6" y2="1505.4" stroke="#c2c2c2" stroke-width="1.5" />
<text x="1308.2" y="1319.5" font-size="25.35" text-anchor="start" fill="#000" font-family="'Liberation Sans', Arial, Helvetica, sans-serif" font-weight="normal"  style="font-kerning:none" stroke="#000" stroke-width="0.3">Chr17:90,062,653-90,067,681</text>
<rect x="1282.6" y="1339.5" width="496.0" height="15.0" fill="#fff" />
<rect x="1282.6" y="1338.8" width="397.2" height="16.4" fill="#000" />
<rect x="1741.6" y="1339.5" width="37.0" height="15.0" fill="#ababab" />
<line x1="1741.6" y1="1339.5" x2="1741.6" y2="1354.5" stroke="#000" stroke-width="1.3" />
<line x1="1679.0" y1="1339.5" x2="1778.6" y2="1339.5" stroke="#000" stroke-width="1.4" />
<line x1="1679.0" y1="1354.5" x2="1778.6" y2="1354.5" stroke="#000" stroke-width="1.4" />
<text x="1464.3" y="1386.2" font-size="21.5" fill="#000" font-family="'DejaVu Sans', 'Liberation Sans', sans-serif" textLength="41.2" lengthAdjust="spacingAndGlyphs" stroke="#000" stroke-width="0.35">qA1</text>
<text x="1695.4" y="1386.2" font-size="21.5" fill="#000" font-family="'DejaVu Sans', 'Liberation Sans', sans-serif" textLength="41.4" lengthAdjust="spacingAndGlyphs" stroke="#000" stroke-width="0.35">qA2</text>
<line x1="1282.6" y1="1430.4" x2="1778.6" y2="1430.4" stroke="#000" stroke-width="1.3" />
<polygon points="1287.4,1430.4 1298.0,1425.8 1298.0,1434.6" fill="#000" />
<text x="1405.8" y="1468.0" font-size="21.5" fill="#000" font-family="'DejaVu Sans', 'Liberation Sans', sans-serif" textLength="148.1" lengthAdjust="spacingAndGlyphs" stroke="#000" stroke-width="0.35">90,063,000 bp</text>
<line x1="1470.7" y1="1476.5" x2="1470.7" y2="1487.5" stroke="#000" stroke-width="1.3" />
<line x1="1739.0" y1="1476.5" x2="1739.0" y2="1487.5" stroke="#000" stroke-width="1.3" />
<line x1="1282.6" y1="1490.0" x2="1778.6" y2="1490.0" stroke="#000" stroke-width="1.3" />
<rect x="1272.6" y="1315.0" width="1.3" height="190.5" fill="#b4b4b4" />
<rect x="1272.7" y="1513.5" width="3.1" height="398.0" fill="#c4c4c4" />
<rect x="1272.7" y="1916.7" width="3.1" height="212.3" fill="#c4c4c4" />
<rect x="1274.2" y="2129.0" width="3.1" height="235.0" fill="#c4c4c4" />
<rect x="1274.2" y="2369.0" width="3.1" height="319.3" fill="#c4c4c4" />
<rect x="1016.2" y="1514.0" width="248.0" height="397.0" fill="#fafafa" />
<line x1="1016.2" y1="1514.0" x2="1264.2" y2="1514.0" stroke="#c2c2c2" stroke-width="1.5" />
<line x1="1016.2" y1="1911.0" x2="1264.2" y2="1911.0" stroke="#c2c2c2" stroke-width="1.5" />
<line x1="1016.2" y1="1513.3" x2="1016.2" y2="1911.7" stroke="#c2c2c2" stroke-width="1.5" />
<line x1="1264.2" y1="1513.3" x2="1264.2" y2="1911.7" stroke="#c2c2c2" stroke-width="1.5" />
<rect x="1282.6" y="1514.0" width="496.0" height="397.0" fill="#fafafa" />
<line x1="1282.6" y1="1514.0" x2="1778.6" y2="1514.0" stroke="#c2c2c2" stroke-width="1.5" />
<line x1="1282.6" y1="1911.0" x2="1778.6" y2="1911.0" stroke="#c2c2c2" stroke-width="1.5" />
<line x1="1282.6" y1="1513.3" x2="1282.6" y2="1911.7" stroke="#c2c2c2" stroke-width="1.5" />
<text x="1050.8" y="1562.5" font-size="25.7" text-anchor="start" fill="#000" font-family="'Liberation Sans', Arial, Helvetica, sans-serif" font-weight="normal"  style="font-kerning:none" stroke="#000" stroke-width="0.3">Control. bam</text>
<text x="1050.8" y="1592.8" font-size="25.7" text-anchor="start" fill="#000" font-family="'Liberation Sans', Arial, Helvetica, sans-serif" font-weight="normal"  style="font-kerning:none" stroke="#000" stroke-width="0.3">Coverage</text>
<text x="1050.8" y="1643.3" font-size="25.7" text-anchor="start" fill="#000" font-family="'Liberation Sans', Arial, Helvetica, sans-serif" font-weight="normal"  style="font-kerning:none" stroke="#000" stroke-width="0.3">Control. bam</text>
<text x="1050.8" y="1673.7" font-size="25.7" text-anchor="start" fill="#000" font-family="'Liberation Sans', Arial, Helvetica, sans-serif" font-weight="normal"  style="font-kerning:none" stroke="#000" stroke-width="0.3">Junctions</text>
<text x="1050.8" y="1803.0" font-size="25.7" text-anchor="start" fill="#000" font-family="'Liberation Sans', Arial, Helvetica, sans-serif" font-weight="normal"  style="font-kerning:none" stroke="#000" stroke-width="0.3">Control. bam</text>
<text x="1288.4" y="1540.1" font-size="21.5" fill="#000" font-family="'DejaVu Sans', 'Liberation Sans', sans-serif" textLength="73.2" lengthAdjust="spacingAndGlyphs" stroke="#000" stroke-width="0.35">[0-354]</text>
<clipPath id="cr1"><rect x="1282.6" y="1514" width="496" height="397"/></clipPath><g clip-path="url(#cr1)">
<polygon points="1344.1,1572.7 1346.3,1567.5 1353.4,1566.2 1355.4,1564.2 1364.5,1562.9 1372.9,1561.2 1381.4,1560.9 1384.6,1542.7 1387.9,1533.6 1389.6,1522.6 1399.6,1522.6 1404.8,1526.5 1407.2,1531.0 1407.7,1570.1 1408.7,1572.7" fill="#b0b0b0" />
<polygon points="1429.1,1572.7 1429.1,1514.1 1447.7,1514.1 1448.4,1521.9 1451.0,1526.5 1460.1,1528.4 1470.5,1531.0 1480.9,1534.3 1484.2,1537.5 1487.4,1554.4 1492.0,1562.2 1499.1,1572.7" fill="#b0b0b0" />
<line x1="1282.6" y1="1573.8" x2="1778.6" y2="1573.8" stroke="#ededed" stroke-width="1.2" />
<line x1="1282.6" y1="1663.4" x2="1778.6" y2="1663.4" stroke="#ededed" stroke-width="1.2" />
<clipPath id="crb"><rect x="1380" y="1621.4" width="80" height="60"/></clipPath><clipPath id="crt"><rect x="1380" y="1560" width="80" height="61.4"/></clipPath>
<g clip-path="url(#crt)"><ellipse cx="1418.5" cy="1620.8" rx="9.9" ry="39" fill="#d39696"/><ellipse cx="1418.5" cy="1620.8" rx="10.6" ry="27" fill="#c66e6e"/><ellipse cx="1419.0" cy="1621.2" rx="13" ry="18" fill="#b83c3c"/><polygon points="1399.5,1621.4 1401,1614 1406,1610 1410,1606 1412,1621.4" fill="#b83c3c"/></g>
<g clip-path="url(#crb)"><ellipse cx="1418.5" cy="1620.8" rx="10.6" ry="39" fill="#8c8cd2"/><ellipse cx="1418.5" cy="1621.2" rx="11.5" ry="19" fill="#6464c2"/><ellipse cx="1419.0" cy="1621.2" rx="13.2" ry="15" fill="#3838b0"/></g>
<ellipse cx="1419.3" cy="1621.2" rx="8.4" ry="10.8" fill="#fdfdfd"/>
<line x1="1282.6" y1="1617.2" x2="1419.6" y2="1617.4" stroke="#b83636" stroke-width="2.4" />
<line x1="1419.0" y1="1618.2" x2="1440.0" y2="1618.3" stroke="#b84040" stroke-width="1.2" />
<line x1="1282.6" y1="1621.5" x2="1778.6" y2="1621.5" stroke="#8e8e8e" stroke-width="1.2" />
<polygon points="1282.6,1622.6 1282.6,1626.2 1300.0,1625.2 1400.0,1624.4 1450.5,1623.2 1450.5,1622.2" fill="#3434a8" />
<line x1="1450.0" y1="1623.6" x2="1778.6" y2="1623.6" stroke="#b4b4dc" stroke-width="1.4" />
<rect x="1599.0" y="1622.6" width="32.0" height="2.6" fill="#9c9cd6" />
<rect x="1660.0" y="1623.0" width="24.0" height="1.6" fill="#9c9cd6" />
<rect x="1368.6" y="1665.3" width="24.8" height="4.6" fill="#000" />
<line x1="1282.6" y1="1677.8" x2="1429.2" y2="1677.8" stroke="#8fb5cf" stroke-width="1.3" />
<rect x="1429.2" y="1669.1" width="52.8" height="17.4" fill="#c9c9c9" />
<line x1="1282.6" y1="1698.7" x2="1429.2" y2="1698.7" stroke="#8fb5cf" stroke-width="1.3" />
<rect x="1429.2" y="1690.0" width="68.6" height="17.4" fill="#c9c9c9" />
<line x1="1282.6" y1="1719.7" x2="1429.2" y2="1719.7" stroke="#8fb5cf" stroke-width="1.3" />
<rect x="1429.2" y="1711.0" width="62.5" height="17.4" fill="#c9c9c9" />
<line x1="1282.6" y1="1740.6" x2="1429.2" y2="1740.6" stroke="#8fb5cf" stroke-width="1.3" />
<rect x="1429.2" y="1731.9" width="40.2" height="17.4" fill="#c9c9c9" />
<line x1="1282.6" y1="1761.6" x2="1429.2" y2="1761.6" stroke="#8fb5cf" stroke-width="1.3" />
<polygon points="1429.2,1752.9 1502.6,1752.9 1508.8,1761.6 1502.6,1770.3 1429.2,1770.3" fill="#c9c9c9" />
<line x1="1282.6" y1="1782.5" x2="1429.2" y2="1782.5" stroke="#8fb5cf" stroke-width="1.3" />
<polygon points="1429.2,1773.8 1502.6,1773.8 1508.8,1782.5 1502.6,1791.2 1429.2,1791.2" fill="#c9c9c9" />
<line x1="1282.6" y1="1803.4" x2="1429.2" y2="1803.4" stroke="#8fb5cf" stroke-width="1.3" />
<polygon points="1429.2,1794.7 1500.9,1794.7 1507.1,1803.4 1500.9,1812.1 1429.2,1812.1" fill="#c9c9c9" />
<line x1="1282.6" y1="1824.4" x2="1429.2" y2="1824.4" stroke="#8fb5cf" stroke-width="1.3" />
<polygon points="1429.2,1815.7 1500.9,1815.7 1507.1,1824.4 1500.9,1833.1 1429.2,1833.1" fill="#c9c9c9" />
<line x1="1282.6" y1="1845.3" x2="1429.2" y2="1845.3" stroke="#8fb5cf" stroke-width="1.3" />
<polygon points="1429.2,1836.6 1500.9,1836.6 1507.1,1845.3 1500.9,1854.0 1429.2,1854.0" fill="#c9c9c9" />
<line x1="1282.6" y1="1866.3" x2="1429.2" y2="1866.3" stroke="#8fb5cf" stroke-width="1.3" />
<polygon points="1429.2,1857.6 1500.9,1857.6 1507.1,1866.3 1500.9,1875.0 1429.2,1875.0" fill="#c9c9c9" />
<line x1="1282.6" y1="1887.2" x2="1429.2" y2="1887.2" stroke="#8fb5cf" stroke-width="1.3" />
<polygon points="1429.2,1878.5 1500.9,1878.5 1507.1,1887.2 1500.9,1895.9 1429.2,1895.9" fill="#c9c9c9" />
<line x1="1282.6" y1="1908.1" x2="1429.2" y2="1908.1" stroke="#8fb5cf" stroke-width="1.3" />
<polygon points="1429.2,1899.4 1500.9,1899.4 1507.1,1908.1 1500.9,1916.8 1429.2,1916.8" fill="#c9c9c9" />
<polygon points="1556.2,1669.1 1617.6,1669.1 1617.6,1686.5 1556.2,1686.5 1550.0,1677.8" fill="#c9c9c9" />
<line x1="1617.6" y1="1677.8" x2="1778.6" y2="1677.8" stroke="#8fb5cf" stroke-width="1.3" />
<rect x="1482.2" y="1690.0" width="1.6" height="17.4" fill="#3030c0" />
<rect x="1496.0" y="1773.8" width="1.6" height="17.4" fill="#3030c0" />
<rect x="1472.5" y="1836.6" width="1.6" height="17.4" fill="#40d040" />
</g>
<rect x="1016.2" y="1917.2" width="248.0" height="211.8" fill="#fafafa" />
<rect x="1017.7" y="2129.0" width="248.0" height="234.5" fill="#fafafa" />
<line x1="1016.2" y1="1917.2" x2="1264.2" y2="1917.2" stroke="#c2c2c2" stroke-width="1.5" />
<line x1="1017.7" y1="2363.5" x2="1265.7" y2="2363.5" stroke="#c2c2c2" stroke-width="1.5" />
<line x1="1016.2" y1="1917.2" x2="1016.2" y2="2129.0" stroke="#c2c2c2" stroke-width="1.5" />
<line x1="1264.2" y1="1917.2" x2="1264.2" y2="2129.0" stroke="#c2c2c2" stroke-width="1.5" />
<line x1="1017.7" y1="2129.0" x2="1017.7" y2="2363.5" stroke="#c2c2c2" stroke-width="1.5" />
<line x1="1265.7" y1="2129.0" x2="1265.7" y2="2363.5" stroke="#c2c2c2" stroke-width="1.5" />
<rect x="1282.6" y="1917.2" width="496.0" height="446.3" fill="#fafafa" />
<line x1="1282.6" y1="1917.2" x2="1778.6" y2="1917.2" stroke="#c2c2c2" stroke-width="1.5" />
<line x1="1284.1" y1="2363.5" x2="1778.6" y2="2363.5" stroke="#c2c2c2" stroke-width="1.5" />
<line x1="1282.6" y1="1917.2" x2="1282.6" y2="2129.0" stroke="#c2c2c2" stroke-width="1.5" />
<line x1="1284.1" y1="2129.0" x2="1284.1" y2="2363.5" stroke="#c2c2c2" stroke-width="1.5" />
<text x="1050.8" y="1961.0" font-size="25.7" text-anchor="start" fill="#000" font-family="'Liberation Sans', Arial, Helvetica, sans-serif" font-weight="normal"  style="font-kerning:none" stroke="#000" stroke-width="0.3">Cas3. bam</text>
<text x="1050.8" y="1990.7" font-size="25.7" text-anchor="start" fill="#000" font-family="'Liberation Sans', Arial, Helvetica, sans-serif" font-weight="normal"  style="font-kerning:none" stroke="#000" stroke-width="0.3">Coverage</text>
<text x="1050.8" y="2040.4" font-size="25.7" text-anchor="start" fill="#000" font-family="'Liberation Sans', Arial, Helvetica, sans-serif" font-weight="normal"  style="font-kerning:none" stroke="#000" stroke-width="0.3">Cas3. bam</text>
<text x="1050.8" y="2071.0" font-size="25.7" text-anchor="start" fill="#000" font-family="'Liberation Sans', Arial, Helvetica, sans-serif" font-weight="normal"  style="font-kerning:none" stroke="#000" stroke-width="0.3">Junctions</text>
<text x="1050.8" y="2231.0" font-size="25.7" text-anchor="start" fill="#000" font-family="'Liberation Sans', Arial, Helvetica, sans-serif" font-weight="normal"  style="font-kerning:none" stroke="#000" stroke-width="0.3">Cas3. bam</text>
<text x="1288.4" y="1941.9" font-size="21.5" fill="#000" font-family="'DejaVu Sans', 'Liberation Sans', sans-serif" textLength="73.2" lengthAdjust="spacingAndGlyphs" stroke="#000" stroke-width="0.35">[0-762]</text>
<clipPath id="cr2"><rect x="1282.6" y="1917.2" width="496" height="446.29999999999995"/></clipPath><g clip-path="url(#cr2)">
<polygon points="1344.1,1975.9 1346.3,1970.7 1353.4,1969.7 1356.0,1966.8 1371.6,1965.5 1380.1,1964.2 1383.3,1954.4 1387.2,1945.3 1391.8,1931.0 1396.4,1917.7 1407.0,1917.7 1407.0,1975.9" fill="#b0b0b0" />
<polygon points="1429.1,1975.9 1429.1,1917.7 1447.1,1917.7 1449.0,1927.8 1454.9,1931.0 1465.3,1934.3 1471.8,1937.5 1480.9,1939.1 1484.2,1944.0 1488.1,1953.1 1492.6,1964.9 1499.1,1975.9" fill="#b0b0b0" />
<line x1="1282.6" y1="1976.7" x2="1778.6" y2="1976.7" stroke="#ededed" stroke-width="1.2" />
<line x1="1282.6" y1="2066.2" x2="1778.6" y2="2066.2" stroke="#ededed" stroke-width="1.2" />
<clipPath id="crb2"><rect x="1380" y="2024.6" width="80" height="60"/></clipPath><clipPath id="crt2"><rect x="1380" y="1960" width="80" height="64.6"/></clipPath>
<g clip-path="url(#crt2)"><ellipse cx="1418.5" cy="2024" rx="10.5" ry="39.1" fill="#d08a8a"/></g>
<g clip-path="url(#crb2)"><ellipse cx="1418.5" cy="2024" rx="10.5" ry="39" fill="#8a8acc"/></g>
<line x1="1282.6" y1="2016.4" x2="1407.0" y2="2016.6" stroke="#cc8484" stroke-width="2.4" />
<line x1="1430.0" y1="2016.6" x2="1445.0" y2="2016.6" stroke="#cc8484" stroke-width="2.2" />
<line x1="1436.0" y1="2017.1" x2="1520.0" y2="2017.4" stroke="#b86060" stroke-width="1.3" />
<line x1="1520.0" y1="2017.4" x2="1661.8" y2="2022.8" stroke="#c48080" stroke-width="1.3" />
<polygon points="1282.6,2025.6 1282.6,2028.4 1330.0,2027.6 1406.0,2026.6 1406.0,2025.4" fill="#6464ba" />
<g clip-path="url(#crt2)"><ellipse cx="1418.7" cy="2024.2" rx="12.4" ry="15.2" fill="#b83c3c"/></g>
<g clip-path="url(#crb2)"><ellipse cx="1418.7" cy="2024.2" rx="12.4" ry="14.8" fill="#3030b0"/></g>
<ellipse cx="1419.3" cy="2024.4" rx="8.4" ry="11" fill="#fdfdfd"/>
<line x1="1282.6" y1="2024.6" x2="1778.6" y2="2024.6" stroke="#8e8e8e" stroke-width="1.2" />
<rect x="1339.6" y="2068.8" width="25.8" height="4.3" fill="#000" />
<rect x="1368.6" y="2068.8" width="24.8" height="4.3" fill="#000" />
<line x1="1282.6" y1="2081.0" x2="1429.2" y2="2081.0" stroke="#8fb5cf" stroke-width="1.3" />
<rect x="1393.4" y="2072.3" width="13.9" height="17.4" fill="#c9c9c9" />
<rect x="1429.2" y="2072.3" width="56.0" height="17.4" fill="#c9c9c9" />
<line x1="1282.6" y1="2101.9" x2="1429.2" y2="2101.9" stroke="#8fb5cf" stroke-width="1.3" />
<rect x="1392.1" y="2093.2" width="15.2" height="17.4" fill="#c9c9c9" />
<rect x="1429.2" y="2093.2" width="43.5" height="17.4" fill="#c9c9c9" />
<rect x="1439.6" y="2093.2" width="1.6" height="17.4" fill="#e03030" />
<rect x="1463.5" y="2093.2" width="1.6" height="17.4" fill="#d08020" />
<line x1="1282.6" y1="2122.9" x2="1660.2" y2="2122.9" stroke="#8fb5cf" stroke-width="1.3" />
<polygon points="1660.2,2114.2 1726.9,2114.2 1734.9,2122.9 1726.9,2131.6 1660.2,2131.6" fill="#c9c9c9" />
<rect x="1342.2" y="2135.1" width="65.1" height="17.4" fill="#c9c9c9" />
<line x1="1407.3" y1="2143.8" x2="1429.2" y2="2143.8" stroke="#8fb5cf" stroke-width="1.3" />
<polygon points="1429.2,2135.1 1444.6,2135.1 1450.8,2143.8 1444.6,2152.5 1429.2,2152.5" fill="#c9c9c9" />
<rect x="1436.8" y="2135.1" width="1.6" height="17.4" fill="#40d040" />
<rect x="1342.2" y="2156.1" width="65.1" height="17.4" fill="#c9c9c9" />
<line x1="1407.3" y1="2164.8" x2="1429.2" y2="2164.8" stroke="#8fb5cf" stroke-width="1.3" />
<polygon points="1429.2,2156.1 1444.6,2156.1 1450.8,2164.8 1444.6,2173.5 1429.2,2173.5" fill="#c9c9c9" />
<rect x="1436.8" y="2156.1" width="1.6" height="17.4" fill="#40d040" />
<rect x="1342.2" y="2177.0" width="65.1" height="17.4" fill="#c9c9c9" />
<line x1="1407.3" y1="2185.7" x2="1429.2" y2="2185.7" stroke="#8fb5cf" stroke-width="1.3" />
<polygon points="1429.2,2177.0 1444.6,2177.0 1450.8,2185.7 1444.6,2194.4 1429.2,2194.4" fill="#c9c9c9" />
<rect x="1434.0" y="2177.0" width="1.6" height="17.4" fill="#40d040" />
<rect x="1438.4" y="2177.0" width="1.6" height="17.4" fill="#40d040" />
<rect x="1392.9" y="2177.0" width="1.6" height="17.4" fill="#c08020" />
<rect x="1396.0" y="2177.0" width="1.6" height="17.4" fill="#2050b0" />
<rect x="1342.2" y="2197.9" width="65.1" height="17.4" fill="#c9c9c9" />
<line x1="1407.3" y1="2206.6" x2="1429.2" y2="2206.6" stroke="#8fb5cf" stroke-width="1.3" />
<polygon points="1429.2,2197.9 1444.6,2197.9 1450.8,2206.6 1444.6,2215.3 1429.2,2215.3" fill="#c9c9c9" />
<rect x="1436.8" y="2197.9" width="1.6" height="17.4" fill="#40d040" />
<rect x="1342.2" y="2218.9" width="65.1" height="17.4" fill="#c9c9c9" />
<line x1="1407.3" y1="2227.6" x2="1429.2" y2="2227.6" stroke="#8fb5cf" stroke-width="1.3" />
<polygon points="1429.2,2218.9 1444.6,2218.9 1450.8,2227.6 1444.6,2236.3 1429.2,2236.3" fill="#c9c9c9" />
<rect x="1436.8" y="2218.9" width="1.6" height="17.4" fill="#40d040" />
<rect x="1343.8" y="2239.8" width="63.5" height="17.4" fill="#c9c9c9" />
<line x1="1407.3" y1="2248.5" x2="1429.2" y2="2248.5" stroke="#8fb5cf" stroke-width="1.3" />
<polygon points="1429.2,2239.8 1447.8,2239.8 1454.0,2248.5 1447.8,2257.2 1429.2,2257.2" fill="#c9c9c9" />
<rect x="1436.8" y="2239.8" width="1.6" height="17.4" fill="#40d040" />
<rect x="1345.4" y="2260.8" width="61.9" height="17.4" fill="#c9c9c9" />
<line x1="1407.3" y1="2269.5" x2="1429.2" y2="2269.5" stroke="#8fb5cf" stroke-width="1.3" />
<polygon points="1429.2,2260.8 1447.8,2260.8 1454.0,2269.5 1447.8,2278.2 1429.2,2278.2" fill="#c9c9c9" />
<rect x="1345.4" y="2281.7" width="61.9" height="17.4" fill="#c9c9c9" />
<line x1="1407.3" y1="2290.4" x2="1429.2" y2="2290.4" stroke="#8fb5cf" stroke-width="1.3" />
<polygon points="1429.2,2281.7 1447.8,2281.7 1454.0,2290.4 1447.8,2299.1 1429.2,2299.1" fill="#c9c9c9" />
<rect x="1345.4" y="2302.6" width="61.9" height="17.4" fill="#c9c9c9" />
<line x1="1407.3" y1="2311.3" x2="1429.2" y2="2311.3" stroke="#8fb5cf" stroke-width="1.3" />
<polygon points="1429.2,2302.6 1447.8,2302.6 1454.0,2311.3 1447.8,2320.0 1429.2,2320.0" fill="#c9c9c9" />
<rect x="1345.4" y="2323.6" width="61.9" height="17.4" fill="#c9c9c9" />
<line x1="1407.3" y1="2332.3" x2="1429.2" y2="2332.3" stroke="#8fb5cf" stroke-width="1.3" />
<polygon points="1429.2,2323.6 1447.8,2323.6 1454.0,2332.3 1447.8,2341.0 1429.2,2341.0" fill="#c9c9c9" />
<rect x="1345.4" y="2344.5" width="61.9" height="17.4" fill="#c9c9c9" />
<line x1="1407.3" y1="2353.2" x2="1429.2" y2="2353.2" stroke="#8fb5cf" stroke-width="1.3" />
<polygon points="1429.2,2344.5 1447.8,2344.5 1454.0,2353.2 1447.8,2361.9 1429.2,2361.9" fill="#c9c9c9" />
</g>
<rect x="1017.4" y="2369.5" width="248.0" height="318.3" fill="#fafafa" />
<line x1="1017.4" y1="2369.5" x2="1265.4" y2="2369.5" stroke="#c2c2c2" stroke-width="1.5" />
<line x1="1017.4" y1="2687.8" x2="1265.4" y2="2687.8" stroke="#c2c2c2" stroke-width="1.5" />
<line x1="1017.4" y1="2368.8" x2="1017.4" y2="2688.5" stroke="#c2c2c2" stroke-width="1.5" />
<line x1="1265.4" y1="2368.8" x2="1265.4" y2="2688.5" stroke="#c2c2c2" stroke-width="1.5" />
<rect x="1284.1" y="2369.5" width="494.5" height="318.3" fill="#fafafa" />
<line x1="1284.1" y1="2369.5" x2="1778.6" y2="2369.5" stroke="#c2c2c2" stroke-width="1.5" />
<line x1="1284.1" y1="2687.8" x2="1778.6" y2="2687.8" stroke="#c2c2c2" stroke-width="1.5" />
<line x1="1284.1" y1="2368.8" x2="1284.1" y2="2688.5" stroke="#c2c2c2" stroke-width="1.5" />
<text x="1042.8" y="2416.0" font-size="25.7" text-anchor="start" fill="#000" font-family="'Liberation Sans', Arial, Helvetica, sans-serif" font-weight="normal"  style="font-kerning:none" stroke="#000" stroke-width="0.3">Refseq Genes</text>
<text x="1045.8" y="2471.0" font-size="25.7" text-anchor="start" fill="#000" font-family="'Liberation Sans', Arial, Helvetica, sans-serif" font-weight="normal"  style="font-kerning:none" stroke="#000" stroke-width="0.3">LINE</text>
<text x="1045.8" y="2539.4" font-size="25.7" text-anchor="start" fill="#000" font-family="'Liberation Sans', Arial, Helvetica, sans-serif" font-weight="normal"  style="font-kerning:none" stroke="#000" stroke-width="0.3">Simple repeat</text>
<text x="1045.8" y="2592.4" font-size="25.7" text-anchor="start" fill="#000" font-family="'Liberation Sans', Arial, Helvetica, sans-serif" font-weight="normal"  style="font-kerning:none" stroke="#000" stroke-width="0.3">LTR</text>
<text x="1045.8" y="2649.8" font-size="25.7" text-anchor="start" fill="#000" font-family="'Liberation Sans', Arial, Helvetica, sans-serif" font-weight="normal"  style="font-kerning:none" stroke="#000" stroke-width="0.3">SINE</text>
<line x1="1284.1" y1="2429.4" x2="1778.6" y2="2429.4" stroke="#ededed" stroke-width="1.2" />
<line x1="1284.1" y1="2489.2" x2="1778.6" y2="2489.2" stroke="#ededed" stroke-width="1.2" />
<line x1="1284.1" y1="2548.7" x2="1778.6" y2="2548.7" stroke="#ededed" stroke-width="1.2" />
<line x1="1284.1" y1="2608.7" x2="1778.6" y2="2608.7" stroke="#ededed" stroke-width="1.2" />
<line x1="1284.1" y1="2668.2" x2="1778.6" y2="2668.2" stroke="#ededed" stroke-width="1.2" />
<line x1="1284.1" y1="2387.5" x2="1778.6" y2="2387.5" stroke="#1c1ca0" stroke-width="1.5" />
<polyline points="1293.7,2384.3 1290.5,2387.5 1293.7,2390.7" fill="none" stroke="#1c1ca0" stroke-width="1.1"/>
<polyline points="1340.4,2384.3 1337.2,2387.5 1340.4,2390.7" fill="none" stroke="#1c1ca0" stroke-width="1.1"/>
<polyline points="1387.1,2384.3 1383.9,2387.5 1387.1,2390.7" fill="none" stroke="#1c1ca0" stroke-width="1.1"/>
<polyline points="1433.9,2384.3 1430.7,2387.5 1433.9,2390.7" fill="none" stroke="#1c1ca0" stroke-width="1.1"/>
<polyline points="1480.6,2384.3 1477.4,2387.5 1480.6,2390.7" fill="none" stroke="#1c1ca0" stroke-width="1.1"/>
<polyline points="1527.3,2384.3 1524.1,2387.5 1527.3,2390.7" fill="none" stroke="#1c1ca0" stroke-width="1.1"/>
<polyline points="1574.0,2384.3 1570.8,2387.5 1574.0,2390.7" fill="none" stroke="#1c1ca0" stroke-width="1.1"/>
<polyline points="1620.7,2384.3 1617.5,2387.5 1620.7,2390.7" fill="none" stroke="#1c1ca0" stroke-width="1.1"/>
<polyline points="1667.5,2384.3 1664.3,2387.5 1667.5,2390.7" fill="none" stroke="#1c1ca0" stroke-width="1.1"/>
<polyline points="1714.2,2384.3 1711.0,2387.5 1714.2,2390.7" fill="none" stroke="#1c1ca0" stroke-width="1.1"/>
<polyline points="1760.9,2384.3 1757.7,2387.5 1760.9,2390.7" fill="none" stroke="#1c1ca0" stroke-width="1.1"/>
<rect x="1390.5" y="2499.0" width="46.7" height="14.6" fill="#8888d8" />
<polyline points="1410.6,2502.6 1415.2,2506.3 1410.6,2510" fill="none" stroke="#fff" stroke-width="1.2"/>
<text x="1388.4" y="2539.4" font-size="21.5" fill="#000" font-family="'DejaVu Sans', 'Liberation Sans', sans-serif" textLength="57.0" lengthAdjust="spacingAndGlyphs" stroke="#000" stroke-width="0.35">(CA)n</text>
<text x="1051.5" y="1310.6" font-size="44.8" text-anchor="start" fill="#000" font-family="'Liberation Sans', Arial, Helvetica, sans-serif" font-weight="normal"  style="font-kerning:none" stroke="#000" stroke-width="0.3">POT93</text>
</g>
</svg>
</body></html>
